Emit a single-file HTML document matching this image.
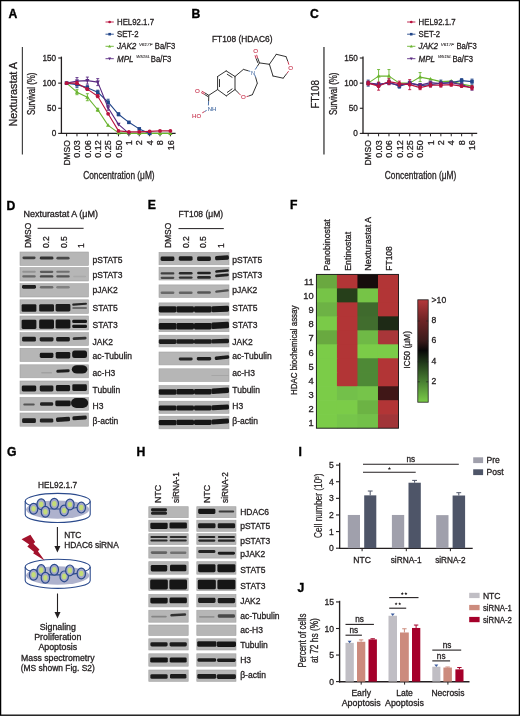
<!DOCTYPE html>
<html><head><meta charset="utf-8"><title>Figure</title>
<style>
html,body{margin:0;padding:0;background:#fff;}
svg{display:block;font-family:"Liberation Sans", sans-serif;will-change:transform;}
</style></head>
<body>
<svg width="520" height="716" viewBox="0 0 520 716" fill="#231f20">
<defs><filter id="bl" x="-20%" y="-60%" width="140%" height="220%"><feGaussianBlur stdDeviation="0.65"/></filter></defs>
<rect x="0" y="0" width="520" height="716" fill="#fff"/>
<text x="8.60" y="17.90" font-size="12.2" font-weight="bold" fill="#000" style="stroke:#000;stroke-width:0.35">A</text>
<text x="191.60" y="17.60" font-size="12.2" font-weight="bold" fill="#000" style="stroke:#000;stroke-width:0.35">B</text>
<text x="309.90" y="17.80" font-size="12.2" font-weight="bold" fill="#000" style="stroke:#000;stroke-width:0.35">C</text>
<text x="6.40" y="209.60" font-size="12.2" font-weight="bold" fill="#000" style="stroke:#000;stroke-width:0.35">D</text>
<text x="147.80" y="209.20" font-size="12.2" font-weight="bold" fill="#000" style="stroke:#000;stroke-width:0.35">E</text>
<text x="290.10" y="209.40" font-size="12.2" font-weight="bold" fill="#000" style="stroke:#000;stroke-width:0.35">F</text>
<text x="6.90" y="456.30" font-size="12.2" font-weight="bold" fill="#000" style="stroke:#000;stroke-width:0.35">G</text>
<text x="136.40" y="455.80" font-size="12.2" font-weight="bold" fill="#000" style="stroke:#000;stroke-width:0.35">H</text>
<text x="298.40" y="455.80" font-size="12.2" font-weight="bold" fill="#000" style="stroke:#000;stroke-width:0.35">I</text>
<text x="297.60" y="591.60" font-size="12.2" font-weight="bold" fill="#000" style="stroke:#000;stroke-width:0.35">J</text>
<line x1="22.40" y1="46.90" x2="22.40" y2="154.60" stroke="#444" stroke-width="1.2" />
<text x="17.10" y="94.30" font-size="11.0" stroke="#231f20" stroke-width="0.3" text-anchor="middle" transform="rotate(-90 17.10 94.30)" textLength="64.4" lengthAdjust="spacingAndGlyphs">Nexturastat A</text>
<text x="35.40" y="93.80" font-size="10.0" stroke="#231f20" stroke-width="0.3" text-anchor="middle" transform="rotate(-90 35.40 93.80)" textLength="42.5" lengthAdjust="spacingAndGlyphs">Survival (%)</text>
<line x1="61.40" y1="56.60" x2="61.40" y2="134.00" stroke="#231f20" stroke-width="1.3" />
<line x1="58.20" y1="133.40" x2="61.40" y2="133.40" stroke="#231f20" stroke-width="1.1" />
<text x="56.20" y="136.30" font-size="8.2" stroke="#231f20" stroke-width="0.3" text-anchor="end">0</text>
<line x1="58.20" y1="108.27" x2="61.40" y2="108.27" stroke="#231f20" stroke-width="1.1" />
<text x="56.20" y="111.17" font-size="8.2" stroke="#231f20" stroke-width="0.3" text-anchor="end">50</text>
<line x1="58.20" y1="83.13" x2="61.40" y2="83.13" stroke="#231f20" stroke-width="1.1" />
<text x="56.20" y="86.03" font-size="8.2" stroke="#231f20" stroke-width="0.3" text-anchor="end">100</text>
<line x1="58.20" y1="58.00" x2="61.40" y2="58.00" stroke="#231f20" stroke-width="1.1" />
<text x="56.20" y="60.90" font-size="8.2" stroke="#231f20" stroke-width="0.3" text-anchor="end">150</text>
<line x1="60.80" y1="133.40" x2="175.60" y2="133.40" stroke="#231f20" stroke-width="1.3" />
<line x1="66.60" y1="133.40" x2="66.60" y2="136.30" stroke="#231f20" stroke-width="1.0" />
<line x1="76.98" y1="133.40" x2="76.98" y2="136.30" stroke="#231f20" stroke-width="1.0" />
<line x1="87.36" y1="133.40" x2="87.36" y2="136.30" stroke="#231f20" stroke-width="1.0" />
<line x1="97.74" y1="133.40" x2="97.74" y2="136.30" stroke="#231f20" stroke-width="1.0" />
<line x1="108.12" y1="133.40" x2="108.12" y2="136.30" stroke="#231f20" stroke-width="1.0" />
<line x1="118.50" y1="133.40" x2="118.50" y2="136.30" stroke="#231f20" stroke-width="1.0" />
<line x1="128.88" y1="133.40" x2="128.88" y2="136.30" stroke="#231f20" stroke-width="1.0" />
<line x1="139.26" y1="133.40" x2="139.26" y2="136.30" stroke="#231f20" stroke-width="1.0" />
<line x1="149.64" y1="133.40" x2="149.64" y2="136.30" stroke="#231f20" stroke-width="1.0" />
<line x1="160.02" y1="133.40" x2="160.02" y2="136.30" stroke="#231f20" stroke-width="1.0" />
<line x1="170.40" y1="133.40" x2="170.40" y2="136.30" stroke="#231f20" stroke-width="1.0" />
<text x="69.80" y="140.20" font-size="9.0" stroke="#231f20" stroke-width="0.3" text-anchor="end" transform="rotate(-90 69.80 140.20)" textLength="25.4" lengthAdjust="spacingAndGlyphs">DMSO</text>
<text x="80.18" y="140.20" font-size="9.0" stroke="#231f20" stroke-width="0.3" text-anchor="end" transform="rotate(-90 80.18 140.20)">0.03</text>
<text x="90.56" y="140.20" font-size="9.0" stroke="#231f20" stroke-width="0.3" text-anchor="end" transform="rotate(-90 90.56 140.20)">0.06</text>
<text x="100.94" y="140.20" font-size="9.0" stroke="#231f20" stroke-width="0.3" text-anchor="end" transform="rotate(-90 100.94 140.20)">0.12</text>
<text x="111.32" y="140.20" font-size="9.0" stroke="#231f20" stroke-width="0.3" text-anchor="end" transform="rotate(-90 111.32 140.20)">0.25</text>
<text x="121.70" y="140.20" font-size="9.0" stroke="#231f20" stroke-width="0.3" text-anchor="end" transform="rotate(-90 121.70 140.20)">0.50</text>
<text x="132.08" y="140.20" font-size="9.0" stroke="#231f20" stroke-width="0.3" text-anchor="end" transform="rotate(-90 132.08 140.20)">1</text>
<text x="142.46" y="140.20" font-size="9.0" stroke="#231f20" stroke-width="0.3" text-anchor="end" transform="rotate(-90 142.46 140.20)">2</text>
<text x="152.84" y="140.20" font-size="9.0" stroke="#231f20" stroke-width="0.3" text-anchor="end" transform="rotate(-90 152.84 140.20)">4</text>
<text x="163.22" y="140.20" font-size="9.0" stroke="#231f20" stroke-width="0.3" text-anchor="end" transform="rotate(-90 163.22 140.20)">8</text>
<text x="173.60" y="140.20" font-size="9.0" stroke="#231f20" stroke-width="0.3" text-anchor="end" transform="rotate(-90 173.60 140.20)">16</text>
<text x="118.90" y="179.00" font-size="10.2" stroke="#231f20" stroke-width="0.3" text-anchor="middle" textLength="71.5" lengthAdjust="spacingAndGlyphs">Concentration (μM)</text>
<line x1="76.98" y1="89.67" x2="76.98" y2="94.69" stroke="#6ab42f" stroke-width="0.9" />
<line x1="75.48" y1="89.67" x2="78.48" y2="89.67" stroke="#6ab42f" stroke-width="0.9" />
<line x1="75.48" y1="94.69" x2="78.48" y2="94.69" stroke="#6ab42f" stroke-width="0.9" />
<line x1="87.36" y1="93.69" x2="87.36" y2="100.72" stroke="#6ab42f" stroke-width="0.9" />
<line x1="85.86" y1="93.69" x2="88.86" y2="93.69" stroke="#6ab42f" stroke-width="0.9" />
<line x1="85.86" y1="100.72" x2="88.86" y2="100.72" stroke="#6ab42f" stroke-width="0.9" />
<line x1="97.74" y1="108.27" x2="97.74" y2="111.28" stroke="#6ab42f" stroke-width="0.9" />
<line x1="96.24" y1="108.27" x2="99.24" y2="108.27" stroke="#6ab42f" stroke-width="0.9" />
<line x1="96.24" y1="111.28" x2="99.24" y2="111.28" stroke="#6ab42f" stroke-width="0.9" />
<polyline points="66.60,83.13 76.98,92.18 87.36,97.21 97.74,109.77 108.12,125.36 118.50,132.90 128.88,133.40 139.26,133.40 149.64,133.40 160.02,133.40 170.40,133.40" fill="none" stroke="#6ab42f" stroke-width="1.1" stroke-linejoin="round"/>
<polygon points="66.60,80.93 68.70,84.63 64.50,84.63" fill="#6ab42f" stroke="none" stroke-width="1" />
<polygon points="76.98,89.98 79.08,93.68 74.88,93.68" fill="#6ab42f" stroke="none" stroke-width="1" />
<polygon points="87.36,95.01 89.46,98.71 85.26,98.71" fill="#6ab42f" stroke="none" stroke-width="1" />
<polygon points="97.74,107.57 99.84,111.27 95.64,111.27" fill="#6ab42f" stroke="none" stroke-width="1" />
<polygon points="108.12,123.16 110.22,126.86 106.02,126.86" fill="#6ab42f" stroke="none" stroke-width="1" />
<polygon points="118.50,130.70 120.60,134.40 116.40,134.40" fill="#6ab42f" stroke="none" stroke-width="1" />
<polygon points="128.88,131.20 130.98,134.90 126.78,134.90" fill="#6ab42f" stroke="none" stroke-width="1" />
<polygon points="139.26,131.20 141.36,134.90 137.16,134.90" fill="#6ab42f" stroke="none" stroke-width="1" />
<polygon points="149.64,131.20 151.74,134.90 147.54,134.90" fill="#6ab42f" stroke="none" stroke-width="1" />
<polygon points="160.02,131.20 162.12,134.90 157.92,134.90" fill="#6ab42f" stroke="none" stroke-width="1" />
<polygon points="170.40,131.20 172.50,134.90 168.30,134.90" fill="#6ab42f" stroke="none" stroke-width="1" />
<line x1="76.98" y1="81.62" x2="76.98" y2="87.65" stroke="#21468a" stroke-width="0.9" />
<line x1="75.48" y1="81.62" x2="78.48" y2="81.62" stroke="#21468a" stroke-width="0.9" />
<line x1="75.48" y1="87.65" x2="78.48" y2="87.65" stroke="#21468a" stroke-width="0.9" />
<line x1="87.36" y1="85.64" x2="87.36" y2="89.67" stroke="#21468a" stroke-width="0.9" />
<line x1="85.86" y1="85.64" x2="88.86" y2="85.64" stroke="#21468a" stroke-width="0.9" />
<line x1="85.86" y1="89.67" x2="88.86" y2="89.67" stroke="#21468a" stroke-width="0.9" />
<line x1="97.74" y1="90.17" x2="97.74" y2="94.19" stroke="#21468a" stroke-width="0.9" />
<line x1="96.24" y1="90.17" x2="99.24" y2="90.17" stroke="#21468a" stroke-width="0.9" />
<line x1="96.24" y1="94.19" x2="99.24" y2="94.19" stroke="#21468a" stroke-width="0.9" />
<line x1="108.12" y1="99.22" x2="108.12" y2="105.25" stroke="#21468a" stroke-width="0.9" />
<line x1="106.62" y1="99.22" x2="109.62" y2="99.22" stroke="#21468a" stroke-width="0.9" />
<line x1="106.62" y1="105.25" x2="109.62" y2="105.25" stroke="#21468a" stroke-width="0.9" />
<line x1="118.50" y1="112.79" x2="118.50" y2="115.81" stroke="#21468a" stroke-width="0.9" />
<line x1="117.00" y1="112.79" x2="120.00" y2="112.79" stroke="#21468a" stroke-width="0.9" />
<line x1="117.00" y1="115.81" x2="120.00" y2="115.81" stroke="#21468a" stroke-width="0.9" />
<polyline points="66.60,83.13 76.98,84.64 87.36,87.65 97.74,92.18 108.12,102.23 118.50,114.30 128.88,122.34 139.26,128.88 149.64,133.40" fill="none" stroke="#21468a" stroke-width="1.1" stroke-linejoin="round"/>
<rect x="64.80" y="81.33" width="3.60" height="3.60" fill="#21468a" />
<rect x="75.18" y="82.84" width="3.60" height="3.60" fill="#21468a" />
<rect x="85.56" y="85.85" width="3.60" height="3.60" fill="#21468a" />
<rect x="95.94" y="90.38" width="3.60" height="3.60" fill="#21468a" />
<rect x="106.32" y="100.43" width="3.60" height="3.60" fill="#21468a" />
<rect x="116.70" y="112.50" width="3.60" height="3.60" fill="#21468a" />
<rect x="127.08" y="120.54" width="3.60" height="3.60" fill="#21468a" />
<rect x="137.46" y="127.08" width="3.60" height="3.60" fill="#21468a" />
<rect x="147.84" y="131.60" width="3.60" height="3.60" fill="#21468a" />
<line x1="76.98" y1="77.60" x2="76.98" y2="84.64" stroke="#5a2a82" stroke-width="0.9" />
<line x1="75.48" y1="77.60" x2="78.48" y2="77.60" stroke="#5a2a82" stroke-width="0.9" />
<line x1="75.48" y1="84.64" x2="78.48" y2="84.64" stroke="#5a2a82" stroke-width="0.9" />
<line x1="87.36" y1="77.10" x2="87.36" y2="84.14" stroke="#5a2a82" stroke-width="0.9" />
<line x1="85.86" y1="77.10" x2="88.86" y2="77.10" stroke="#5a2a82" stroke-width="0.9" />
<line x1="85.86" y1="84.14" x2="88.86" y2="84.14" stroke="#5a2a82" stroke-width="0.9" />
<line x1="97.74" y1="78.61" x2="97.74" y2="85.64" stroke="#5a2a82" stroke-width="0.9" />
<line x1="96.24" y1="78.61" x2="99.24" y2="78.61" stroke="#5a2a82" stroke-width="0.9" />
<line x1="96.24" y1="85.64" x2="99.24" y2="85.64" stroke="#5a2a82" stroke-width="0.9" />
<line x1="108.12" y1="105.25" x2="108.12" y2="110.28" stroke="#5a2a82" stroke-width="0.9" />
<line x1="106.62" y1="105.25" x2="109.62" y2="105.25" stroke="#5a2a82" stroke-width="0.9" />
<line x1="106.62" y1="110.28" x2="109.62" y2="110.28" stroke="#5a2a82" stroke-width="0.9" />
<polyline points="66.60,83.13 76.98,81.12 87.36,80.62 97.74,82.12 108.12,107.76 118.50,124.35 128.88,133.40" fill="none" stroke="#5a2a82" stroke-width="1.1" stroke-linejoin="round"/>
<polygon points="66.60,85.33 68.70,81.63 64.50,81.63" fill="#5a2a82" stroke="none" stroke-width="1" />
<polygon points="76.98,83.32 79.08,79.62 74.88,79.62" fill="#5a2a82" stroke="none" stroke-width="1" />
<polygon points="87.36,82.82 89.46,79.12 85.26,79.12" fill="#5a2a82" stroke="none" stroke-width="1" />
<polygon points="97.74,84.32 99.84,80.62 95.64,80.62" fill="#5a2a82" stroke="none" stroke-width="1" />
<polygon points="108.12,109.96 110.22,106.26 106.02,106.26" fill="#5a2a82" stroke="none" stroke-width="1" />
<polygon points="118.50,126.55 120.60,122.85 116.40,122.85" fill="#5a2a82" stroke="none" stroke-width="1" />
<polygon points="128.88,135.60 130.98,131.90 126.78,131.90" fill="#5a2a82" stroke="none" stroke-width="1" />
<line x1="76.98" y1="81.62" x2="76.98" y2="84.64" stroke="#b8123e" stroke-width="0.9" />
<line x1="75.48" y1="81.62" x2="78.48" y2="81.62" stroke="#b8123e" stroke-width="0.9" />
<line x1="75.48" y1="84.64" x2="78.48" y2="84.64" stroke="#b8123e" stroke-width="0.9" />
<line x1="87.36" y1="88.16" x2="87.36" y2="90.17" stroke="#b8123e" stroke-width="0.9" />
<line x1="85.86" y1="88.16" x2="88.86" y2="88.16" stroke="#b8123e" stroke-width="0.9" />
<line x1="85.86" y1="90.17" x2="88.86" y2="90.17" stroke="#b8123e" stroke-width="0.9" />
<line x1="97.74" y1="94.69" x2="97.74" y2="97.71" stroke="#b8123e" stroke-width="0.9" />
<line x1="96.24" y1="94.69" x2="99.24" y2="94.69" stroke="#b8123e" stroke-width="0.9" />
<line x1="96.24" y1="97.71" x2="99.24" y2="97.71" stroke="#b8123e" stroke-width="0.9" />
<polyline points="66.60,83.13 76.98,83.13 87.36,89.16 97.74,96.20 108.12,113.79 118.50,130.89 128.88,131.89 139.26,131.89 149.64,131.39 160.02,130.89 170.40,130.89" fill="none" stroke="#b8123e" stroke-width="1.1" stroke-linejoin="round"/>
<circle cx="66.60" cy="83.13" r="1.90" fill="#b8123e"/>
<circle cx="76.98" cy="83.13" r="1.90" fill="#b8123e"/>
<circle cx="87.36" cy="89.16" r="1.90" fill="#b8123e"/>
<circle cx="97.74" cy="96.20" r="1.90" fill="#b8123e"/>
<circle cx="108.12" cy="113.79" r="1.90" fill="#b8123e"/>
<circle cx="118.50" cy="130.89" r="1.90" fill="#b8123e"/>
<circle cx="128.88" cy="131.89" r="1.90" fill="#b8123e"/>
<circle cx="139.26" cy="131.89" r="1.90" fill="#b8123e"/>
<circle cx="149.64" cy="131.39" r="1.90" fill="#b8123e"/>
<circle cx="160.02" cy="130.89" r="1.90" fill="#b8123e"/>
<circle cx="170.40" cy="130.89" r="1.90" fill="#b8123e"/>
<line x1="105.50" y1="22.00" x2="113.80" y2="22.00" stroke="#b8123e" stroke-width="0.9" />
<circle cx="109.65" cy="22.00" r="1.37" fill="#b8123e"/>
<line x1="105.50" y1="34.20" x2="113.80" y2="34.20" stroke="#21468a" stroke-width="0.9" />
<rect x="108.35" y="32.90" width="2.59" height="2.59" fill="#21468a" />
<line x1="105.50" y1="46.30" x2="113.80" y2="46.30" stroke="#6ab42f" stroke-width="0.9" />
<polygon points="109.65,44.72 111.16,47.38 108.14,47.38" fill="#6ab42f" stroke="none" stroke-width="1" />
<line x1="105.50" y1="58.70" x2="113.80" y2="58.70" stroke="#5a2a82" stroke-width="0.9" />
<polygon points="109.65,60.28 111.16,57.62 108.14,57.62" fill="#5a2a82" stroke="none" stroke-width="1" />
<text x="117.00" y="25.00" font-size="8.6" stroke="#231f20" stroke-width="0.3" textLength="37.0" lengthAdjust="spacingAndGlyphs">HEL92.1.7</text>
<text x="117.00" y="37.20" font-size="8.6" stroke="#231f20" stroke-width="0.3" textLength="21.5" lengthAdjust="spacingAndGlyphs">SET-2</text>
<text x="117.00" y="49.30" font-size="8.6" stroke="#231f20" stroke-width="0.3" font-style="italic" textLength="19.3" lengthAdjust="spacingAndGlyphs">JAK2</text>
<text x="139.10" y="45.70" font-size="4.3" stroke="#231f20" stroke-width="0.1" font-style="italic" textLength="13.3" lengthAdjust="spacingAndGlyphs">V617F</text>
<text x="154.80" y="49.30" font-size="8.6" stroke="#231f20" stroke-width="0.3" textLength="20.4" lengthAdjust="spacingAndGlyphs">Ba/F3</text>
<text x="117.00" y="61.70" font-size="8.6" stroke="#231f20" stroke-width="0.3" font-style="italic" textLength="16.4" lengthAdjust="spacingAndGlyphs">MPL</text>
<text x="136.30" y="58.10" font-size="4.3" stroke="#231f20" stroke-width="0.1" font-style="italic" textLength="13.8" lengthAdjust="spacingAndGlyphs">W515L</text>
<text x="150.80" y="61.70" font-size="8.6" stroke="#231f20" stroke-width="0.3" textLength="20.6" lengthAdjust="spacingAndGlyphs">Ba/F3</text>
<line x1="323.95" y1="46.90" x2="323.95" y2="154.60" stroke="#707070" stroke-width="1.8" />
<text x="318.70" y="94.30" font-size="11.0" stroke="#231f20" stroke-width="0.3" text-anchor="middle" transform="rotate(-90 318.70 94.30)" textLength="28.3" lengthAdjust="spacingAndGlyphs">FT108</text>
<text x="337.00" y="93.80" font-size="10.0" stroke="#231f20" stroke-width="0.3" text-anchor="middle" transform="rotate(-90 337.00 93.80)" textLength="42.5" lengthAdjust="spacingAndGlyphs">Survival (%)</text>
<line x1="363.00" y1="56.60" x2="363.00" y2="134.00" stroke="#231f20" stroke-width="1.3" />
<line x1="359.80" y1="133.40" x2="363.00" y2="133.40" stroke="#231f20" stroke-width="1.1" />
<text x="357.80" y="136.30" font-size="8.2" stroke="#231f20" stroke-width="0.3" text-anchor="end">0</text>
<line x1="359.80" y1="108.27" x2="363.00" y2="108.27" stroke="#231f20" stroke-width="1.1" />
<text x="357.80" y="111.17" font-size="8.2" stroke="#231f20" stroke-width="0.3" text-anchor="end">50</text>
<line x1="359.80" y1="83.13" x2="363.00" y2="83.13" stroke="#231f20" stroke-width="1.1" />
<text x="357.80" y="86.03" font-size="8.2" stroke="#231f20" stroke-width="0.3" text-anchor="end">100</text>
<line x1="359.80" y1="58.00" x2="363.00" y2="58.00" stroke="#231f20" stroke-width="1.1" />
<text x="357.80" y="60.90" font-size="8.2" stroke="#231f20" stroke-width="0.3" text-anchor="end">150</text>
<line x1="362.40" y1="133.40" x2="477.20" y2="133.40" stroke="#231f20" stroke-width="1.3" />
<line x1="368.20" y1="133.40" x2="368.20" y2="136.30" stroke="#231f20" stroke-width="1.0" />
<line x1="378.58" y1="133.40" x2="378.58" y2="136.30" stroke="#231f20" stroke-width="1.0" />
<line x1="388.96" y1="133.40" x2="388.96" y2="136.30" stroke="#231f20" stroke-width="1.0" />
<line x1="399.34" y1="133.40" x2="399.34" y2="136.30" stroke="#231f20" stroke-width="1.0" />
<line x1="409.72" y1="133.40" x2="409.72" y2="136.30" stroke="#231f20" stroke-width="1.0" />
<line x1="420.10" y1="133.40" x2="420.10" y2="136.30" stroke="#231f20" stroke-width="1.0" />
<line x1="430.48" y1="133.40" x2="430.48" y2="136.30" stroke="#231f20" stroke-width="1.0" />
<line x1="440.86" y1="133.40" x2="440.86" y2="136.30" stroke="#231f20" stroke-width="1.0" />
<line x1="451.24" y1="133.40" x2="451.24" y2="136.30" stroke="#231f20" stroke-width="1.0" />
<line x1="461.62" y1="133.40" x2="461.62" y2="136.30" stroke="#231f20" stroke-width="1.0" />
<line x1="472.00" y1="133.40" x2="472.00" y2="136.30" stroke="#231f20" stroke-width="1.0" />
<text x="371.40" y="140.20" font-size="9.0" stroke="#231f20" stroke-width="0.3" text-anchor="end" transform="rotate(-90 371.40 140.20)" textLength="25.4" lengthAdjust="spacingAndGlyphs">DMSO</text>
<text x="381.78" y="140.20" font-size="9.0" stroke="#231f20" stroke-width="0.3" text-anchor="end" transform="rotate(-90 381.78 140.20)">0.03</text>
<text x="392.16" y="140.20" font-size="9.0" stroke="#231f20" stroke-width="0.3" text-anchor="end" transform="rotate(-90 392.16 140.20)">0.06</text>
<text x="402.54" y="140.20" font-size="9.0" stroke="#231f20" stroke-width="0.3" text-anchor="end" transform="rotate(-90 402.54 140.20)">0.12</text>
<text x="412.92" y="140.20" font-size="9.0" stroke="#231f20" stroke-width="0.3" text-anchor="end" transform="rotate(-90 412.92 140.20)">0.25</text>
<text x="423.30" y="140.20" font-size="9.0" stroke="#231f20" stroke-width="0.3" text-anchor="end" transform="rotate(-90 423.30 140.20)">0.50</text>
<text x="433.68" y="140.20" font-size="9.0" stroke="#231f20" stroke-width="0.3" text-anchor="end" transform="rotate(-90 433.68 140.20)">1</text>
<text x="444.06" y="140.20" font-size="9.0" stroke="#231f20" stroke-width="0.3" text-anchor="end" transform="rotate(-90 444.06 140.20)">2</text>
<text x="454.44" y="140.20" font-size="9.0" stroke="#231f20" stroke-width="0.3" text-anchor="end" transform="rotate(-90 454.44 140.20)">4</text>
<text x="464.82" y="140.20" font-size="9.0" stroke="#231f20" stroke-width="0.3" text-anchor="end" transform="rotate(-90 464.82 140.20)">8</text>
<text x="475.20" y="140.20" font-size="9.0" stroke="#231f20" stroke-width="0.3" text-anchor="end" transform="rotate(-90 475.20 140.20)">16</text>
<text x="420.50" y="179.00" font-size="10.2" stroke="#231f20" stroke-width="0.3" text-anchor="middle" textLength="71.5" lengthAdjust="spacingAndGlyphs">Concentration (μM)</text>
<line x1="378.58" y1="69.56" x2="378.58" y2="82.63" stroke="#6ab42f" stroke-width="0.9" />
<line x1="377.08" y1="69.56" x2="380.08" y2="69.56" stroke="#6ab42f" stroke-width="0.9" />
<line x1="377.08" y1="82.63" x2="380.08" y2="82.63" stroke="#6ab42f" stroke-width="0.9" />
<line x1="388.96" y1="69.56" x2="388.96" y2="82.63" stroke="#6ab42f" stroke-width="0.9" />
<line x1="387.46" y1="69.56" x2="390.46" y2="69.56" stroke="#6ab42f" stroke-width="0.9" />
<line x1="387.46" y1="82.63" x2="390.46" y2="82.63" stroke="#6ab42f" stroke-width="0.9" />
<line x1="420.10" y1="72.57" x2="420.10" y2="81.62" stroke="#6ab42f" stroke-width="0.9" />
<line x1="418.60" y1="72.57" x2="421.60" y2="72.57" stroke="#6ab42f" stroke-width="0.9" />
<line x1="418.60" y1="81.62" x2="421.60" y2="81.62" stroke="#6ab42f" stroke-width="0.9" />
<polyline points="368.20,83.13 378.58,76.09 388.96,76.09 399.34,83.13 409.72,83.13 420.10,77.10 430.48,79.11 440.86,81.62 451.24,81.12 461.62,84.14 472.00,86.15" fill="none" stroke="#6ab42f" stroke-width="1.1" stroke-linejoin="round"/>
<polygon points="368.20,80.93 370.30,84.63 366.10,84.63" fill="#6ab42f" stroke="none" stroke-width="1" />
<polygon points="378.58,73.89 380.68,77.59 376.48,77.59" fill="#6ab42f" stroke="none" stroke-width="1" />
<polygon points="388.96,73.89 391.06,77.59 386.86,77.59" fill="#6ab42f" stroke="none" stroke-width="1" />
<polygon points="399.34,80.93 401.44,84.63 397.24,84.63" fill="#6ab42f" stroke="none" stroke-width="1" />
<polygon points="409.72,80.93 411.82,84.63 407.62,84.63" fill="#6ab42f" stroke="none" stroke-width="1" />
<polygon points="420.10,74.90 422.20,78.60 418.00,78.60" fill="#6ab42f" stroke="none" stroke-width="1" />
<polygon points="430.48,76.91 432.58,80.61 428.38,80.61" fill="#6ab42f" stroke="none" stroke-width="1" />
<polygon points="440.86,79.42 442.96,83.12 438.76,83.12" fill="#6ab42f" stroke="none" stroke-width="1" />
<polygon points="451.24,78.92 453.34,82.62 449.14,82.62" fill="#6ab42f" stroke="none" stroke-width="1" />
<polygon points="461.62,81.94 463.72,85.64 459.52,85.64" fill="#6ab42f" stroke="none" stroke-width="1" />
<polygon points="472.00,83.95 474.10,87.65 469.90,87.65" fill="#6ab42f" stroke="none" stroke-width="1" />
<line x1="368.20" y1="80.11" x2="368.20" y2="86.15" stroke="#21468a" stroke-width="0.9" />
<line x1="366.70" y1="80.11" x2="369.70" y2="80.11" stroke="#21468a" stroke-width="0.9" />
<line x1="366.70" y1="86.15" x2="369.70" y2="86.15" stroke="#21468a" stroke-width="0.9" />
<line x1="378.58" y1="83.13" x2="378.58" y2="87.15" stroke="#21468a" stroke-width="0.9" />
<line x1="377.08" y1="83.13" x2="380.08" y2="83.13" stroke="#21468a" stroke-width="0.9" />
<line x1="377.08" y1="87.15" x2="380.08" y2="87.15" stroke="#21468a" stroke-width="0.9" />
<line x1="388.96" y1="80.11" x2="388.96" y2="84.14" stroke="#21468a" stroke-width="0.9" />
<line x1="387.46" y1="80.11" x2="390.46" y2="80.11" stroke="#21468a" stroke-width="0.9" />
<line x1="387.46" y1="84.14" x2="390.46" y2="84.14" stroke="#21468a" stroke-width="0.9" />
<line x1="399.34" y1="84.14" x2="399.34" y2="88.16" stroke="#21468a" stroke-width="0.9" />
<line x1="397.84" y1="84.14" x2="400.84" y2="84.14" stroke="#21468a" stroke-width="0.9" />
<line x1="397.84" y1="88.16" x2="400.84" y2="88.16" stroke="#21468a" stroke-width="0.9" />
<line x1="409.72" y1="81.12" x2="409.72" y2="85.14" stroke="#21468a" stroke-width="0.9" />
<line x1="408.22" y1="81.12" x2="411.22" y2="81.12" stroke="#21468a" stroke-width="0.9" />
<line x1="408.22" y1="85.14" x2="411.22" y2="85.14" stroke="#21468a" stroke-width="0.9" />
<line x1="420.10" y1="83.63" x2="420.10" y2="87.65" stroke="#21468a" stroke-width="0.9" />
<line x1="418.60" y1="83.63" x2="421.60" y2="83.63" stroke="#21468a" stroke-width="0.9" />
<line x1="418.60" y1="87.65" x2="421.60" y2="87.65" stroke="#21468a" stroke-width="0.9" />
<line x1="430.48" y1="82.63" x2="430.48" y2="86.65" stroke="#21468a" stroke-width="0.9" />
<line x1="428.98" y1="82.63" x2="431.98" y2="82.63" stroke="#21468a" stroke-width="0.9" />
<line x1="428.98" y1="86.65" x2="431.98" y2="86.65" stroke="#21468a" stroke-width="0.9" />
<line x1="440.86" y1="80.11" x2="440.86" y2="86.15" stroke="#21468a" stroke-width="0.9" />
<line x1="439.36" y1="80.11" x2="442.36" y2="80.11" stroke="#21468a" stroke-width="0.9" />
<line x1="439.36" y1="86.15" x2="442.36" y2="86.15" stroke="#21468a" stroke-width="0.9" />
<line x1="451.24" y1="81.12" x2="451.24" y2="84.14" stroke="#21468a" stroke-width="0.9" />
<line x1="449.74" y1="81.12" x2="452.74" y2="81.12" stroke="#21468a" stroke-width="0.9" />
<line x1="449.74" y1="84.14" x2="452.74" y2="84.14" stroke="#21468a" stroke-width="0.9" />
<line x1="461.62" y1="78.61" x2="461.62" y2="82.63" stroke="#21468a" stroke-width="0.9" />
<line x1="460.12" y1="78.61" x2="463.12" y2="78.61" stroke="#21468a" stroke-width="0.9" />
<line x1="460.12" y1="82.63" x2="463.12" y2="82.63" stroke="#21468a" stroke-width="0.9" />
<line x1="472.00" y1="79.11" x2="472.00" y2="84.14" stroke="#21468a" stroke-width="0.9" />
<line x1="470.50" y1="79.11" x2="473.50" y2="79.11" stroke="#21468a" stroke-width="0.9" />
<line x1="470.50" y1="84.14" x2="473.50" y2="84.14" stroke="#21468a" stroke-width="0.9" />
<polyline points="368.20,83.13 378.58,85.14 388.96,82.12 399.34,86.15 409.72,83.13 420.10,85.64 430.48,84.64 440.86,83.13 451.24,82.63 461.62,80.62 472.00,81.62" fill="none" stroke="#21468a" stroke-width="1.1" stroke-linejoin="round"/>
<rect x="366.40" y="81.33" width="3.60" height="3.60" fill="#21468a" />
<rect x="376.78" y="83.34" width="3.60" height="3.60" fill="#21468a" />
<rect x="387.16" y="80.32" width="3.60" height="3.60" fill="#21468a" />
<rect x="397.54" y="84.35" width="3.60" height="3.60" fill="#21468a" />
<rect x="407.92" y="81.33" width="3.60" height="3.60" fill="#21468a" />
<rect x="418.30" y="83.84" width="3.60" height="3.60" fill="#21468a" />
<rect x="428.68" y="82.84" width="3.60" height="3.60" fill="#21468a" />
<rect x="439.06" y="81.33" width="3.60" height="3.60" fill="#21468a" />
<rect x="449.44" y="80.83" width="3.60" height="3.60" fill="#21468a" />
<rect x="459.82" y="78.82" width="3.60" height="3.60" fill="#21468a" />
<rect x="470.20" y="79.82" width="3.60" height="3.60" fill="#21468a" />
<line x1="368.20" y1="81.62" x2="368.20" y2="84.64" stroke="#5a2a82" stroke-width="0.9" />
<line x1="366.70" y1="81.62" x2="369.70" y2="81.62" stroke="#5a2a82" stroke-width="0.9" />
<line x1="366.70" y1="84.64" x2="369.70" y2="84.64" stroke="#5a2a82" stroke-width="0.9" />
<line x1="378.58" y1="82.63" x2="378.58" y2="85.64" stroke="#5a2a82" stroke-width="0.9" />
<line x1="377.08" y1="82.63" x2="380.08" y2="82.63" stroke="#5a2a82" stroke-width="0.9" />
<line x1="377.08" y1="85.64" x2="380.08" y2="85.64" stroke="#5a2a82" stroke-width="0.9" />
<line x1="388.96" y1="81.62" x2="388.96" y2="84.64" stroke="#5a2a82" stroke-width="0.9" />
<line x1="387.46" y1="81.62" x2="390.46" y2="81.62" stroke="#5a2a82" stroke-width="0.9" />
<line x1="387.46" y1="84.64" x2="390.46" y2="84.64" stroke="#5a2a82" stroke-width="0.9" />
<line x1="399.34" y1="83.63" x2="399.34" y2="86.65" stroke="#5a2a82" stroke-width="0.9" />
<line x1="397.84" y1="83.63" x2="400.84" y2="83.63" stroke="#5a2a82" stroke-width="0.9" />
<line x1="397.84" y1="86.65" x2="400.84" y2="86.65" stroke="#5a2a82" stroke-width="0.9" />
<line x1="409.72" y1="81.62" x2="409.72" y2="84.64" stroke="#5a2a82" stroke-width="0.9" />
<line x1="408.22" y1="81.62" x2="411.22" y2="81.62" stroke="#5a2a82" stroke-width="0.9" />
<line x1="408.22" y1="84.64" x2="411.22" y2="84.64" stroke="#5a2a82" stroke-width="0.9" />
<line x1="420.10" y1="83.63" x2="420.10" y2="86.65" stroke="#5a2a82" stroke-width="0.9" />
<line x1="418.60" y1="83.63" x2="421.60" y2="83.63" stroke="#5a2a82" stroke-width="0.9" />
<line x1="418.60" y1="86.65" x2="421.60" y2="86.65" stroke="#5a2a82" stroke-width="0.9" />
<line x1="430.48" y1="81.12" x2="430.48" y2="84.14" stroke="#5a2a82" stroke-width="0.9" />
<line x1="428.98" y1="81.12" x2="431.98" y2="81.12" stroke="#5a2a82" stroke-width="0.9" />
<line x1="428.98" y1="84.14" x2="431.98" y2="84.14" stroke="#5a2a82" stroke-width="0.9" />
<line x1="440.86" y1="82.12" x2="440.86" y2="85.14" stroke="#5a2a82" stroke-width="0.9" />
<line x1="439.36" y1="82.12" x2="442.36" y2="82.12" stroke="#5a2a82" stroke-width="0.9" />
<line x1="439.36" y1="85.14" x2="442.36" y2="85.14" stroke="#5a2a82" stroke-width="0.9" />
<line x1="451.24" y1="81.12" x2="451.24" y2="84.14" stroke="#5a2a82" stroke-width="0.9" />
<line x1="449.74" y1="81.12" x2="452.74" y2="81.12" stroke="#5a2a82" stroke-width="0.9" />
<line x1="449.74" y1="84.14" x2="452.74" y2="84.14" stroke="#5a2a82" stroke-width="0.9" />
<line x1="461.62" y1="83.13" x2="461.62" y2="86.15" stroke="#5a2a82" stroke-width="0.9" />
<line x1="460.12" y1="83.13" x2="463.12" y2="83.13" stroke="#5a2a82" stroke-width="0.9" />
<line x1="460.12" y1="86.15" x2="463.12" y2="86.15" stroke="#5a2a82" stroke-width="0.9" />
<line x1="472.00" y1="86.15" x2="472.00" y2="90.17" stroke="#5a2a82" stroke-width="0.9" />
<line x1="470.50" y1="86.15" x2="473.50" y2="86.15" stroke="#5a2a82" stroke-width="0.9" />
<line x1="470.50" y1="90.17" x2="473.50" y2="90.17" stroke="#5a2a82" stroke-width="0.9" />
<polyline points="368.20,83.13 378.58,84.14 388.96,83.13 399.34,85.14 409.72,83.13 420.10,85.14 430.48,82.63 440.86,83.63 451.24,82.63 461.62,84.64 472.00,88.16" fill="none" stroke="#5a2a82" stroke-width="1.1" stroke-linejoin="round"/>
<polygon points="368.20,85.33 370.30,81.63 366.10,81.63" fill="#5a2a82" stroke="none" stroke-width="1" />
<polygon points="378.58,86.34 380.68,82.64 376.48,82.64" fill="#5a2a82" stroke="none" stroke-width="1" />
<polygon points="388.96,85.33 391.06,81.63 386.86,81.63" fill="#5a2a82" stroke="none" stroke-width="1" />
<polygon points="399.34,87.34 401.44,83.64 397.24,83.64" fill="#5a2a82" stroke="none" stroke-width="1" />
<polygon points="409.72,85.33 411.82,81.63 407.62,81.63" fill="#5a2a82" stroke="none" stroke-width="1" />
<polygon points="420.10,87.34 422.20,83.64 418.00,83.64" fill="#5a2a82" stroke="none" stroke-width="1" />
<polygon points="430.48,84.83 432.58,81.13 428.38,81.13" fill="#5a2a82" stroke="none" stroke-width="1" />
<polygon points="440.86,85.83 442.96,82.13 438.76,82.13" fill="#5a2a82" stroke="none" stroke-width="1" />
<polygon points="451.24,84.83 453.34,81.13 449.14,81.13" fill="#5a2a82" stroke="none" stroke-width="1" />
<polygon points="461.62,86.84 463.72,83.14 459.52,83.14" fill="#5a2a82" stroke="none" stroke-width="1" />
<polygon points="472.00,90.36 474.10,86.66 469.90,86.66" fill="#5a2a82" stroke="none" stroke-width="1" />
<line x1="368.20" y1="81.12" x2="368.20" y2="85.14" stroke="#b8123e" stroke-width="0.9" />
<line x1="366.70" y1="81.12" x2="369.70" y2="81.12" stroke="#b8123e" stroke-width="0.9" />
<line x1="366.70" y1="85.14" x2="369.70" y2="85.14" stroke="#b8123e" stroke-width="0.9" />
<line x1="378.58" y1="82.12" x2="378.58" y2="90.17" stroke="#b8123e" stroke-width="0.9" />
<line x1="377.08" y1="82.12" x2="380.08" y2="82.12" stroke="#b8123e" stroke-width="0.9" />
<line x1="377.08" y1="90.17" x2="380.08" y2="90.17" stroke="#b8123e" stroke-width="0.9" />
<line x1="388.96" y1="78.61" x2="388.96" y2="84.64" stroke="#b8123e" stroke-width="0.9" />
<line x1="387.46" y1="78.61" x2="390.46" y2="78.61" stroke="#b8123e" stroke-width="0.9" />
<line x1="387.46" y1="84.64" x2="390.46" y2="84.64" stroke="#b8123e" stroke-width="0.9" />
<line x1="399.34" y1="81.12" x2="399.34" y2="86.15" stroke="#b8123e" stroke-width="0.9" />
<line x1="397.84" y1="81.12" x2="400.84" y2="81.12" stroke="#b8123e" stroke-width="0.9" />
<line x1="397.84" y1="86.15" x2="400.84" y2="86.15" stroke="#b8123e" stroke-width="0.9" />
<line x1="409.72" y1="79.61" x2="409.72" y2="89.67" stroke="#b8123e" stroke-width="0.9" />
<line x1="408.22" y1="79.61" x2="411.22" y2="79.61" stroke="#b8123e" stroke-width="0.9" />
<line x1="408.22" y1="89.67" x2="411.22" y2="89.67" stroke="#b8123e" stroke-width="0.9" />
<line x1="420.10" y1="85.64" x2="420.10" y2="89.67" stroke="#b8123e" stroke-width="0.9" />
<line x1="418.60" y1="85.64" x2="421.60" y2="85.64" stroke="#b8123e" stroke-width="0.9" />
<line x1="418.60" y1="89.67" x2="421.60" y2="89.67" stroke="#b8123e" stroke-width="0.9" />
<line x1="430.48" y1="83.13" x2="430.48" y2="87.15" stroke="#b8123e" stroke-width="0.9" />
<line x1="428.98" y1="83.13" x2="431.98" y2="83.13" stroke="#b8123e" stroke-width="0.9" />
<line x1="428.98" y1="87.15" x2="431.98" y2="87.15" stroke="#b8123e" stroke-width="0.9" />
<line x1="440.86" y1="83.13" x2="440.86" y2="87.15" stroke="#b8123e" stroke-width="0.9" />
<line x1="439.36" y1="83.13" x2="442.36" y2="83.13" stroke="#b8123e" stroke-width="0.9" />
<line x1="439.36" y1="87.15" x2="442.36" y2="87.15" stroke="#b8123e" stroke-width="0.9" />
<line x1="451.24" y1="83.13" x2="451.24" y2="86.15" stroke="#b8123e" stroke-width="0.9" />
<line x1="449.74" y1="83.13" x2="452.74" y2="83.13" stroke="#b8123e" stroke-width="0.9" />
<line x1="449.74" y1="86.15" x2="452.74" y2="86.15" stroke="#b8123e" stroke-width="0.9" />
<line x1="461.62" y1="85.14" x2="461.62" y2="87.15" stroke="#b8123e" stroke-width="0.9" />
<line x1="460.12" y1="85.14" x2="463.12" y2="85.14" stroke="#b8123e" stroke-width="0.9" />
<line x1="460.12" y1="87.15" x2="463.12" y2="87.15" stroke="#b8123e" stroke-width="0.9" />
<line x1="472.00" y1="85.64" x2="472.00" y2="89.67" stroke="#b8123e" stroke-width="0.9" />
<line x1="470.50" y1="85.64" x2="473.50" y2="85.64" stroke="#b8123e" stroke-width="0.9" />
<line x1="470.50" y1="89.67" x2="473.50" y2="89.67" stroke="#b8123e" stroke-width="0.9" />
<polyline points="368.20,83.13 378.58,86.15 388.96,81.62 399.34,83.63 409.72,84.64 420.10,87.65 430.48,85.14 440.86,85.14 451.24,84.64 461.62,86.15 472.00,87.65" fill="none" stroke="#b8123e" stroke-width="1.1" stroke-linejoin="round"/>
<circle cx="368.20" cy="83.13" r="1.90" fill="#b8123e"/>
<circle cx="378.58" cy="86.15" r="1.90" fill="#b8123e"/>
<circle cx="388.96" cy="81.62" r="1.90" fill="#b8123e"/>
<circle cx="399.34" cy="83.63" r="1.90" fill="#b8123e"/>
<circle cx="409.72" cy="84.64" r="1.90" fill="#b8123e"/>
<circle cx="420.10" cy="87.65" r="1.90" fill="#b8123e"/>
<circle cx="430.48" cy="85.14" r="1.90" fill="#b8123e"/>
<circle cx="440.86" cy="85.14" r="1.90" fill="#b8123e"/>
<circle cx="451.24" cy="84.64" r="1.90" fill="#b8123e"/>
<circle cx="461.62" cy="86.15" r="1.90" fill="#b8123e"/>
<circle cx="472.00" cy="87.65" r="1.90" fill="#b8123e"/>
<line x1="407.10" y1="22.00" x2="415.40" y2="22.00" stroke="#b8123e" stroke-width="0.9" />
<circle cx="411.25" cy="22.00" r="1.37" fill="#b8123e"/>
<line x1="407.10" y1="34.20" x2="415.40" y2="34.20" stroke="#21468a" stroke-width="0.9" />
<rect x="409.95" y="32.90" width="2.59" height="2.59" fill="#21468a" />
<line x1="407.10" y1="46.30" x2="415.40" y2="46.30" stroke="#6ab42f" stroke-width="0.9" />
<polygon points="411.25,44.72 412.76,47.38 409.74,47.38" fill="#6ab42f" stroke="none" stroke-width="1" />
<line x1="407.10" y1="58.70" x2="415.40" y2="58.70" stroke="#5a2a82" stroke-width="0.9" />
<polygon points="411.25,60.28 412.76,57.62 409.74,57.62" fill="#5a2a82" stroke="none" stroke-width="1" />
<text x="418.60" y="25.00" font-size="8.6" stroke="#231f20" stroke-width="0.3" textLength="37.0" lengthAdjust="spacingAndGlyphs">HEL92.1.7</text>
<text x="418.60" y="37.20" font-size="8.6" stroke="#231f20" stroke-width="0.3" textLength="21.5" lengthAdjust="spacingAndGlyphs">SET-2</text>
<text x="418.60" y="49.30" font-size="8.6" stroke="#231f20" stroke-width="0.3" font-style="italic" textLength="19.3" lengthAdjust="spacingAndGlyphs">JAK2</text>
<text x="440.70" y="45.70" font-size="4.3" stroke="#231f20" stroke-width="0.1" font-style="italic" textLength="13.3" lengthAdjust="spacingAndGlyphs">V617F</text>
<text x="456.40" y="49.30" font-size="8.6" stroke="#231f20" stroke-width="0.3" textLength="20.4" lengthAdjust="spacingAndGlyphs">Ba/F3</text>
<text x="418.60" y="61.70" font-size="8.6" stroke="#231f20" stroke-width="0.3" font-style="italic" textLength="16.4" lengthAdjust="spacingAndGlyphs">MPL</text>
<text x="437.90" y="58.10" font-size="4.3" stroke="#231f20" stroke-width="0.1" font-style="italic" textLength="13.8" lengthAdjust="spacingAndGlyphs">W515L</text>
<text x="452.40" y="61.70" font-size="8.6" stroke="#231f20" stroke-width="0.3" textLength="20.6" lengthAdjust="spacingAndGlyphs">Ba/F3</text>
<text x="242.20" y="42.40" font-size="8.4" stroke="#231f20" stroke-width="0.3" text-anchor="middle" textLength="60.5" lengthAdjust="spacingAndGlyphs">FT108 (HDAC6)</text>
<line x1="226.20" y1="70.90" x2="235.00" y2="76.50" stroke="#333" stroke-width="1.0" stroke-linecap="round"/>
<line x1="235.00" y1="76.50" x2="235.00" y2="89.60" stroke="#333" stroke-width="1.0" stroke-linecap="round"/>
<line x1="235.00" y1="89.60" x2="226.30" y2="95.90" stroke="#333" stroke-width="1.0" stroke-linecap="round"/>
<line x1="226.30" y1="95.90" x2="217.60" y2="89.60" stroke="#333" stroke-width="1.0" stroke-linecap="round"/>
<line x1="217.60" y1="89.60" x2="217.60" y2="76.50" stroke="#333" stroke-width="1.0" stroke-linecap="round"/>
<line x1="217.60" y1="76.50" x2="226.20" y2="70.90" stroke="#333" stroke-width="1.0" stroke-linecap="round"/>
<line x1="227.25" y1="74.26" x2="232.06" y2="77.32" stroke="#333" stroke-width="1.0" stroke-linecap="round"/>
<line x1="232.07" y1="88.93" x2="227.32" y2="92.37" stroke="#333" stroke-width="1.0" stroke-linecap="round"/>
<line x1="219.51" y1="86.66" x2="219.51" y2="79.51" stroke="#333" stroke-width="1.0" stroke-linecap="round"/>
<line x1="235.00" y1="76.50" x2="243.40" y2="69.40" stroke="#333" stroke-width="1.0" stroke-linecap="round"/>
<line x1="243.40" y1="69.40" x2="248.60" y2="70.90" stroke="#333" stroke-width="1.0" />
<line x1="248.60" y1="70.90" x2="250.30" y2="71.40" stroke="#4a6fa5" stroke-width="1.0" />
<text x="253.00" y="74.60" font-size="5.6" stroke="#4a6fa5" stroke-width="0.05" text-anchor="middle" fill="#4a6fa5">N</text>
<line x1="255.20" y1="69.60" x2="257.30" y2="66.30" stroke="#4a6fa5" stroke-width="1.0" />
<line x1="257.30" y1="66.30" x2="259.50" y2="62.90" stroke="#333" stroke-width="1.0" />
<line x1="259.50" y1="62.90" x2="257.60" y2="57.90" stroke="#333" stroke-width="1.0" />
<line x1="257.60" y1="57.90" x2="256.60" y2="54.80" stroke="#c8344f" stroke-width="1.0" />
<line x1="258.00" y1="63.10" x2="256.00" y2="58.40" stroke="#333" stroke-width="1.0" />
<line x1="256.00" y1="58.40" x2="255.00" y2="55.30" stroke="#c8344f" stroke-width="1.0" />
<text x="255.60" y="52.90" font-size="6.2" stroke="#c8344f" stroke-width="0.12" text-anchor="middle" fill="#c8344f">O</text>
<line x1="259.50" y1="62.90" x2="269.40" y2="64.30" stroke="#333" stroke-width="1.0" stroke-linecap="round"/>
<line x1="269.40" y1="64.30" x2="276.30" y2="54.30" stroke="#333" stroke-width="1.0" stroke-linecap="round"/>
<line x1="276.30" y1="54.30" x2="286.00" y2="56.60" stroke="#333" stroke-width="1.0" stroke-linecap="round"/>
<line x1="286.00" y1="56.60" x2="287.90" y2="61.50" stroke="#333" stroke-width="1.0" />
<line x1="287.90" y1="61.50" x2="288.90" y2="64.70" stroke="#c8344f" stroke-width="1.0" />
<text x="290.60" y="70.30" font-size="6.2" stroke="#c8344f" stroke-width="0.12" text-anchor="middle" fill="#c8344f">O</text>
<line x1="288.60" y1="71.20" x2="286.80" y2="73.50" stroke="#c8344f" stroke-width="1.0" />
<line x1="286.80" y1="73.50" x2="283.20" y2="78.20" stroke="#333" stroke-width="1.0" />
<line x1="283.20" y1="78.20" x2="273.00" y2="76.00" stroke="#333" stroke-width="1.0" stroke-linecap="round"/>
<line x1="273.00" y1="76.00" x2="269.40" y2="64.30" stroke="#333" stroke-width="1.0" stroke-linecap="round"/>
<line x1="254.60" y1="74.70" x2="255.60" y2="77.20" stroke="#4a6fa5" stroke-width="1.0" />
<line x1="255.60" y1="77.20" x2="257.30" y2="83.30" stroke="#333" stroke-width="1.0" />
<line x1="257.30" y1="83.30" x2="252.40" y2="94.70" stroke="#333" stroke-width="1.0" stroke-linecap="round"/>
<line x1="252.40" y1="94.70" x2="248.50" y2="96.10" stroke="#333" stroke-width="1.0" />
<line x1="248.50" y1="96.10" x2="246.60" y2="96.60" stroke="#c8344f" stroke-width="1.0" />
<text x="243.40" y="99.10" font-size="6.2" stroke="#c8344f" stroke-width="0.12" text-anchor="middle" fill="#c8344f">O</text>
<line x1="240.60" y1="95.20" x2="238.80" y2="93.20" stroke="#c8344f" stroke-width="1.0" />
<line x1="238.80" y1="93.20" x2="235.00" y2="89.60" stroke="#333" stroke-width="1.0" />
<line x1="217.60" y1="89.60" x2="208.80" y2="95.30" stroke="#333" stroke-width="1.0" stroke-linecap="round"/>
<line x1="208.80" y1="95.30" x2="205.00" y2="93.00" stroke="#333" stroke-width="1.0" />
<line x1="205.00" y1="93.00" x2="201.80" y2="91.20" stroke="#c8344f" stroke-width="1.0" />
<line x1="208.20" y1="96.70" x2="204.30" y2="94.30" stroke="#333" stroke-width="1.0" />
<line x1="204.30" y1="94.30" x2="201.10" y2="92.50" stroke="#c8344f" stroke-width="1.0" />
<text x="197.40" y="92.80" font-size="6.2" stroke="#c8344f" stroke-width="0.12" text-anchor="middle" fill="#c8344f">O</text>
<line x1="208.80" y1="95.30" x2="208.60" y2="101.00" stroke="#333" stroke-width="1.0" />
<line x1="208.60" y1="101.00" x2="208.40" y2="105.40" stroke="#4a6fa5" stroke-width="1.0" />
<text x="212.10" y="110.90" font-size="6.0" stroke="#4a6fa5" stroke-width="0.12" text-anchor="middle" fill="#4a6fa5">NH</text>
<line x1="206.60" y1="110.40" x2="204.50" y2="111.60" stroke="#4a6fa5" stroke-width="1.0" />
<line x1="204.50" y1="111.60" x2="202.30" y2="112.80" stroke="#c8344f" stroke-width="1.0" />
<text x="196.60" y="117.60" font-size="6.0" stroke="#c8344f" stroke-width="0.12" text-anchor="middle" fill="#c8344f">HO</text>
<text x="60.70" y="216.80" font-size="8.4" stroke="#231f20" stroke-width="0.3" text-anchor="middle" textLength="74.5" lengthAdjust="spacingAndGlyphs">Nexturastat A (μM)</text>
<line x1="37.60" y1="228.30" x2="83.60" y2="228.30" stroke="#231f20" stroke-width="1.0" />
<text x="30.80" y="248.10" font-size="8.5" stroke="#231f20" stroke-width="0.3" transform="rotate(-90 30.80 248.10)">DMSO</text>
<text x="48.80" y="248.10" font-size="8.5" stroke="#231f20" stroke-width="0.3" transform="rotate(-90 48.80 248.10)">0.2</text>
<text x="66.70" y="248.10" font-size="8.5" stroke="#231f20" stroke-width="0.3" transform="rotate(-90 66.70 248.10)">0.5</text>
<text x="84.00" y="248.10" font-size="8.5" stroke="#231f20" stroke-width="0.3" transform="rotate(-90 84.00 248.10)">1</text>
<rect x="20.00" y="252.00" width="68.50" height="13.50" fill="#b6b6b6" stroke="#a2a2a2" stroke-width="0.6"/>
<g filter="url(#bl)">
<rect x="22.40" y="256.40" width="13.20" height="2.80" rx="1.40" fill="rgb(64,64,64)"/>
<rect x="39.80" y="256.40" width="13.60" height="3.20" rx="1.40" fill="rgb(48,48,48)"/>
<rect x="56.40" y="256.80" width="13.20" height="2.80" rx="1.40" fill="rgb(74,74,74)"/>
</g>
<text x="92.60" y="262.60" font-size="8.5" stroke="#231f20" stroke-width="0.3">pSTAT5</text>
<rect x="20.00" y="267.50" width="68.50" height="13.50" fill="#b6b6b6" stroke="#a2a2a2" stroke-width="0.6"/>
<g filter="url(#bl)">
<rect x="22.25" y="270.80" width="13.50" height="2.00" rx="1.00" fill="rgb(146,146,146)"/>
<rect x="39.85" y="270.70" width="13.50" height="2.20" rx="1.10" fill="rgb(92,92,92)"/>
<rect x="56.25" y="270.80" width="13.50" height="2.00" rx="1.00" fill="rgb(113,113,113)"/>
<rect x="22.25" y="275.30" width="13.50" height="2.20" rx="1.10" fill="rgb(103,103,103)"/>
<rect x="39.85" y="275.20" width="13.50" height="2.40" rx="1.20" fill="rgb(70,70,70)"/>
<rect x="56.25" y="275.30" width="13.50" height="2.20" rx="1.10" fill="rgb(87,87,87)"/>
<rect x="73.10" y="275.65" width="13.00" height="1.50" rx="0.75" fill="rgb(169,169,169)"/>
</g>
<text x="92.60" y="278.10" font-size="8.5" stroke="#231f20" stroke-width="0.3">pSTAT3</text>
<rect x="20.00" y="283.60" width="68.50" height="13.40" fill="#b6b6b6" stroke="#a2a2a2" stroke-width="0.6"/>
<g filter="url(#bl)">
<rect x="22.00" y="285.10" width="14.00" height="3.60" rx="1.40" fill="rgb(26,26,26)"/>
<rect x="39.85" y="286.00" width="13.50" height="2.40" rx="1.20" fill="rgb(108,108,108)"/>
<rect x="56.25" y="286.00" width="13.50" height="2.40" rx="1.20" fill="rgb(130,130,130)"/>
</g>
<text x="92.60" y="292.80" font-size="8.5" stroke="#231f20" stroke-width="0.3">pJAK2</text>
<rect x="20.00" y="299.80" width="68.50" height="13.70" fill="#b6b6b6" stroke="#a2a2a2" stroke-width="0.6"/>
<g filter="url(#bl)">
<rect x="21.60" y="304.20" width="14.80" height="7.60" rx="1.40" fill="rgb(23,23,23)"/>
<rect x="39.20" y="304.20" width="14.80" height="7.40" rx="1.40" fill="rgb(26,26,26)"/>
<rect x="55.60" y="304.10" width="14.80" height="7.40" rx="1.40" fill="rgb(26,26,26)"/>
<rect x="72.20" y="303.10" width="14.80" height="2.20" rx="1.10" fill="rgb(38,38,38)" transform="rotate(-4 79.60 304.20)"/>
<rect x="72.20" y="306.90" width="14.80" height="2.20" rx="1.10" fill="rgb(108,108,108)"/>
</g>
<text x="92.60" y="311.00" font-size="8.5" stroke="#231f20" stroke-width="0.3">STAT5</text>
<rect x="20.00" y="316.00" width="68.50" height="14.00" fill="#b6b6b6" stroke="#a2a2a2" stroke-width="0.6"/>
<g filter="url(#bl)">
<rect x="21.60" y="319.70" width="14.80" height="9.20" rx="1.40" fill="rgb(21,21,21)"/>
<rect x="39.20" y="319.60" width="14.80" height="9.20" rx="1.40" fill="rgb(21,21,21)"/>
<rect x="55.60" y="319.40" width="14.80" height="9.20" rx="1.40" fill="rgb(21,21,21)"/>
<rect x="72.20" y="319.70" width="14.80" height="3.40" rx="1.40" fill="rgb(23,23,23)"/>
<rect x="72.20" y="324.70" width="14.80" height="3.40" rx="1.40" fill="rgb(23,23,23)"/>
</g>
<text x="92.60" y="328.20" font-size="8.5" stroke="#231f20" stroke-width="0.3">STAT3</text>
<rect x="20.00" y="332.60" width="68.50" height="12.90" fill="#b6b6b6" stroke="#a2a2a2" stroke-width="0.6"/>
<g filter="url(#bl)">
<rect x="22.10" y="336.85" width="13.80" height="4.70" rx="1.40" fill="rgb(29,29,29)"/>
<rect x="39.70" y="337.20" width="13.80" height="4.20" rx="1.40" fill="rgb(34,34,34)"/>
<rect x="56.10" y="337.10" width="13.80" height="4.40" rx="1.40" fill="rgb(31,31,31)"/>
<rect x="72.60" y="337.00" width="14.00" height="2.80" rx="1.40" fill="rgb(48,48,48)" transform="rotate(-3 79.60 338.40)"/>
</g>
<text x="92.60" y="344.80" font-size="8.5" stroke="#231f20" stroke-width="0.3">JAK2</text>
<rect x="20.00" y="348.30" width="68.50" height="13.20" fill="#b6b6b6" stroke="#a2a2a2" stroke-width="0.6"/>
<g filter="url(#bl)">
<rect x="39.80" y="352.80" width="13.60" height="5.20" rx="1.40" fill="rgb(25,25,25)"/>
<rect x="55.70" y="351.90" width="14.60" height="6.60" rx="1.40" fill="rgb(23,23,23)"/>
<rect x="72.20" y="350.50" width="14.80" height="7.60" rx="2.50" fill="rgb(21,21,21)"/>
</g>
<text x="92.60" y="359.30" font-size="8.5" stroke="#231f20" stroke-width="0.3">ac-Tubulin</text>
<rect x="20.00" y="364.80" width="68.50" height="13.00" fill="#b6b6b6" stroke="#a2a2a2" stroke-width="0.6"/>
<g filter="url(#bl)">
<rect x="41.10" y="372.05" width="11.00" height="1.50" rx="0.75" fill="rgb(162,162,162)"/>
<rect x="56.30" y="369.50" width="13.40" height="3.00" rx="1.40" fill="rgb(28,28,28)" transform="rotate(-3 63.00 371.00)"/>
<rect x="71.80" y="365.30" width="15.60" height="8.20" rx="5.00" fill="rgb(20,20,20)"/>
</g>
<text x="92.60" y="375.60" font-size="8.5" stroke="#231f20" stroke-width="0.3">ac-H3</text>
<rect x="20.00" y="381.00" width="68.50" height="13.00" fill="#b6b6b6" stroke="#a2a2a2" stroke-width="0.6"/>
<g filter="url(#bl)">
<rect x="21.75" y="385.50" width="14.50" height="6.00" rx="1.40" fill="rgb(25,25,25)"/>
<rect x="39.80" y="385.40" width="13.60" height="6.00" rx="1.40" fill="rgb(26,26,26)"/>
<rect x="55.90" y="385.00" width="14.20" height="6.20" rx="1.40" fill="rgb(25,25,25)"/>
<rect x="72.30" y="384.30" width="14.60" height="6.60" rx="1.40" fill="rgb(23,23,23)"/>
</g>
<text x="92.60" y="392.60" font-size="8.5" stroke="#231f20" stroke-width="0.3">Tubulin</text>
<rect x="20.00" y="397.40" width="68.50" height="12.90" fill="#b6b6b6" stroke="#a2a2a2" stroke-width="0.6"/>
<g filter="url(#bl)">
<rect x="23.25" y="403.40" width="11.50" height="2.00" rx="1.00" fill="rgb(84,84,84)"/>
<rect x="40.00" y="402.20" width="13.20" height="3.60" rx="1.40" fill="rgb(34,34,34)"/>
<rect x="55.30" y="400.60" width="15.40" height="5.60" rx="1.40" fill="rgb(25,25,25)"/>
<rect x="71.00" y="398.10" width="17.20" height="9.80" rx="5.50" fill="rgb(20,20,20)"/>
</g>
<text x="92.60" y="409.30" font-size="8.5" stroke="#231f20" stroke-width="0.3">H3</text>
<rect x="20.00" y="413.00" width="68.50" height="13.20" fill="#b6b6b6" stroke="#a2a2a2" stroke-width="0.6"/>
<g filter="url(#bl)">
<rect x="22.10" y="418.30" width="13.80" height="4.80" rx="1.40" fill="rgb(29,29,29)"/>
<rect x="39.90" y="418.40" width="13.40" height="4.20" rx="1.40" fill="rgb(34,34,34)"/>
<rect x="56.00" y="417.15" width="14.00" height="4.50" rx="1.40" fill="rgb(31,31,31)" transform="rotate(-3 63.00 419.40)"/>
<rect x="72.40" y="415.80" width="14.40" height="4.00" rx="1.40" fill="rgb(31,31,31)" transform="rotate(-4 79.60 417.80)"/>
</g>
<text x="92.60" y="423.50" font-size="8.5" stroke="#231f20" stroke-width="0.3">β-actin</text>
<text x="200.80" y="217.00" font-size="8.4" stroke="#231f20" stroke-width="0.3" text-anchor="middle" textLength="44.5" lengthAdjust="spacingAndGlyphs">FT108 (μM)</text>
<line x1="178.50" y1="228.60" x2="223.80" y2="228.60" stroke="#231f20" stroke-width="1.0" />
<text x="170.60" y="248.10" font-size="8.5" stroke="#231f20" stroke-width="0.3" transform="rotate(-90 170.60 248.10)">DMSO</text>
<text x="189.20" y="248.10" font-size="8.5" stroke="#231f20" stroke-width="0.3" transform="rotate(-90 189.20 248.10)">0.2</text>
<text x="206.20" y="248.10" font-size="8.5" stroke="#231f20" stroke-width="0.3" transform="rotate(-90 206.20 248.10)">0.5</text>
<text x="223.80" y="248.10" font-size="8.5" stroke="#231f20" stroke-width="0.3" transform="rotate(-90 223.80 248.10)">1</text>
<rect x="159.00" y="252.30" width="70.00" height="12.50" fill="#b6b6b6" stroke="#a2a2a2" stroke-width="0.6"/>
<g filter="url(#bl)">
<rect x="160.60" y="256.50" width="13.80" height="4.40" rx="1.40" fill="rgb(29,29,29)"/>
<rect x="178.80" y="256.30" width="13.80" height="4.40" rx="1.40" fill="rgb(28,28,28)"/>
<rect x="197.10" y="256.50" width="13.80" height="4.40" rx="1.40" fill="rgb(29,29,29)"/>
<rect x="215.10" y="255.60" width="13.80" height="4.40" rx="1.40" fill="rgb(26,26,26)" transform="rotate(-3 222.00 257.80)"/>
</g>
<text x="232.30" y="262.60" font-size="8.5" stroke="#231f20" stroke-width="0.3">pSTAT5</text>
<rect x="159.00" y="267.20" width="70.00" height="12.80" fill="#b6b6b6" stroke="#a2a2a2" stroke-width="0.6"/>
<g filter="url(#bl)">
<rect x="160.60" y="272.30" width="13.80" height="2.20" rx="1.10" fill="rgb(64,64,64)"/>
<rect x="178.80" y="272.00" width="13.80" height="2.40" rx="1.20" fill="rgb(44,44,44)"/>
<rect x="197.10" y="271.70" width="13.80" height="2.60" rx="1.30" fill="rgb(34,34,34)"/>
<rect x="215.10" y="269.70" width="13.80" height="2.60" rx="1.30" fill="rgb(29,29,29)" transform="rotate(-5 222.00 271.00)"/>
<rect x="160.60" y="276.70" width="13.80" height="2.20" rx="1.10" fill="rgb(74,74,74)"/>
<rect x="178.80" y="276.40" width="13.80" height="2.40" rx="1.20" fill="rgb(51,51,51)"/>
<rect x="197.10" y="276.10" width="13.80" height="2.60" rx="1.30" fill="rgb(43,43,43)"/>
<rect x="215.10" y="274.10" width="13.80" height="2.60" rx="1.30" fill="rgb(34,34,34)" transform="rotate(-5 222.00 275.40)"/>
</g>
<text x="232.30" y="278.10" font-size="8.5" stroke="#231f20" stroke-width="0.3">pSTAT3</text>
<rect x="159.00" y="284.90" width="70.00" height="12.60" fill="#b6b6b6" stroke="#a2a2a2" stroke-width="0.6"/>
<g filter="url(#bl)">
<rect x="160.60" y="291.60" width="13.80" height="2.40" rx="1.20" fill="rgb(107,107,107)"/>
<rect x="178.80" y="291.50" width="13.80" height="2.40" rx="1.20" fill="rgb(100,100,100)"/>
<rect x="197.10" y="291.20" width="13.80" height="2.60" rx="1.30" fill="rgb(87,87,87)"/>
<rect x="215.10" y="289.80" width="13.80" height="2.40" rx="1.20" fill="rgb(80,80,80)" transform="rotate(-6 222.00 291.00)"/>
</g>
<text x="232.30" y="292.80" font-size="8.5" stroke="#231f20" stroke-width="0.3">pJAK2</text>
<rect x="159.00" y="302.90" width="70.00" height="12.30" fill="#b6b6b6" stroke="#a2a2a2" stroke-width="0.6"/>
<g filter="url(#bl)">
<rect x="158.80" y="306.30" width="17.60" height="6.20" rx="1.40" fill="rgb(25,25,25)"/>
<rect x="176.40" y="306.20" width="17.60" height="6.20" rx="1.40" fill="rgb(25,25,25)"/>
<rect x="194.00" y="306.30" width="17.60" height="6.20" rx="1.40" fill="rgb(25,25,25)"/>
<rect x="211.40" y="305.90" width="17.60" height="6.00" rx="1.40" fill="rgb(25,25,25)" transform="rotate(-2 220.20 308.90)"/>
</g>
<text x="232.30" y="311.00" font-size="8.5" stroke="#231f20" stroke-width="0.3">STAT5</text>
<rect x="159.00" y="319.00" width="70.00" height="12.70" fill="#b6b6b6" stroke="#a2a2a2" stroke-width="0.6"/>
<g filter="url(#bl)">
<rect x="158.80" y="323.00" width="17.60" height="6.60" rx="1.40" fill="rgb(25,25,25)"/>
<rect x="176.40" y="322.90" width="17.60" height="6.60" rx="1.40" fill="rgb(25,25,25)"/>
<rect x="194.00" y="322.90" width="17.60" height="6.60" rx="1.40" fill="rgb(25,25,25)"/>
<rect x="211.40" y="322.10" width="17.60" height="6.60" rx="1.40" fill="rgb(25,25,25)" transform="rotate(-3 220.20 325.40)"/>
</g>
<text x="232.30" y="328.20" font-size="8.5" stroke="#231f20" stroke-width="0.3">STAT3</text>
<rect x="159.00" y="335.20" width="70.00" height="11.70" fill="#b6b6b6" stroke="#a2a2a2" stroke-width="0.6"/>
<g filter="url(#bl)">
<rect x="158.80" y="339.30" width="17.60" height="4.60" rx="1.40" fill="rgb(26,26,26)"/>
<rect x="176.40" y="339.20" width="17.60" height="4.60" rx="1.40" fill="rgb(26,26,26)"/>
<rect x="194.00" y="339.20" width="17.60" height="4.60" rx="1.40" fill="rgb(26,26,26)"/>
<rect x="211.40" y="339.00" width="17.60" height="4.40" rx="1.40" fill="rgb(26,26,26)" transform="rotate(-1 220.20 341.20)"/>
</g>
<text x="232.30" y="344.80" font-size="8.5" stroke="#231f20" stroke-width="0.3">JAK2</text>
<rect x="159.00" y="352.00" width="70.00" height="12.90" fill="#b6b6b6" stroke="#a2a2a2" stroke-width="0.6"/>
<g filter="url(#bl)">
<rect x="178.70" y="357.50" width="14.00" height="3.00" rx="1.40" fill="rgb(38,38,38)"/>
<rect x="196.75" y="357.00" width="14.50" height="3.40" rx="1.40" fill="rgb(31,31,31)"/>
<rect x="214.75" y="355.80" width="14.50" height="3.60" rx="1.40" fill="rgb(26,26,26)" transform="rotate(-6 222.00 357.60)"/>
</g>
<text x="232.30" y="359.30" font-size="8.5" stroke="#231f20" stroke-width="0.3">ac-Tubulin</text>
<rect x="159.00" y="368.80" width="70.00" height="12.70" fill="#b6b6b6" stroke="#a2a2a2" stroke-width="0.6"/>
<g filter="url(#bl)">
<rect x="211.40" y="375.00" width="17.60" height="1.00" rx="0.50" fill="rgb(166,166,166)"/>
</g>
<text x="232.30" y="375.60" font-size="8.5" stroke="#231f20" stroke-width="0.3">ac-H3</text>
<rect x="159.00" y="385.50" width="70.00" height="12.20" fill="#b6b6b6" stroke="#a2a2a2" stroke-width="0.6"/>
<g filter="url(#bl)">
<rect x="158.80" y="389.20" width="17.60" height="5.60" rx="1.40" fill="rgb(25,25,25)"/>
<rect x="176.40" y="389.00" width="17.60" height="5.60" rx="1.40" fill="rgb(25,25,25)"/>
<rect x="194.00" y="389.10" width="17.60" height="5.40" rx="1.40" fill="rgb(25,25,25)"/>
<rect x="211.40" y="388.00" width="17.60" height="5.60" rx="1.40" fill="rgb(25,25,25)" transform="rotate(-4 220.20 390.80)"/>
</g>
<text x="232.30" y="392.60" font-size="8.5" stroke="#231f20" stroke-width="0.3">Tubulin</text>
<rect x="159.00" y="401.20" width="70.00" height="12.20" fill="#b6b6b6" stroke="#a2a2a2" stroke-width="0.6"/>
<g filter="url(#bl)">
<rect x="158.80" y="405.40" width="17.60" height="5.20" rx="1.40" fill="rgb(25,25,25)"/>
<rect x="176.40" y="405.50" width="17.60" height="5.00" rx="1.40" fill="rgb(25,25,25)"/>
<rect x="194.00" y="405.50" width="17.60" height="5.00" rx="1.40" fill="rgb(25,25,25)"/>
<rect x="211.40" y="404.90" width="17.60" height="5.00" rx="1.40" fill="rgb(25,25,25)" transform="rotate(-3 220.20 407.40)"/>
</g>
<text x="232.30" y="409.30" font-size="8.5" stroke="#231f20" stroke-width="0.3">H3</text>
<rect x="159.00" y="416.20" width="70.00" height="12.60" fill="#b6b6b6" stroke="#a2a2a2" stroke-width="0.6"/>
<g filter="url(#bl)">
<rect x="158.80" y="419.90" width="17.60" height="5.40" rx="1.40" fill="rgb(25,25,25)"/>
<rect x="176.40" y="419.70" width="17.60" height="5.40" rx="1.40" fill="rgb(25,25,25)"/>
<rect x="194.00" y="419.70" width="17.60" height="5.20" rx="1.40" fill="rgb(25,25,25)"/>
<rect x="211.40" y="418.90" width="17.60" height="5.20" rx="1.40" fill="rgb(25,25,25)" transform="rotate(-4 220.20 421.50)"/>
</g>
<text x="232.30" y="423.50" font-size="8.5" stroke="#231f20" stroke-width="0.3">β-actin</text>
<text x="160.80" y="503.00" font-size="8.5" stroke="#231f20" stroke-width="0.3" transform="rotate(-90 160.80 503.00)" textLength="18.2" lengthAdjust="spacingAndGlyphs">NTC</text>
<text x="178.80" y="503.00" font-size="8.5" stroke="#231f20" stroke-width="0.3" transform="rotate(-90 178.80 503.00)" textLength="31.0" lengthAdjust="spacingAndGlyphs">siRNA-1</text>
<text x="209.80" y="503.00" font-size="8.5" stroke="#231f20" stroke-width="0.3" transform="rotate(-90 209.80 503.00)" textLength="18.2" lengthAdjust="spacingAndGlyphs">NTC</text>
<text x="227.80" y="503.00" font-size="8.5" stroke="#231f20" stroke-width="0.3" transform="rotate(-90 227.80 503.00)" textLength="31.0" lengthAdjust="spacingAndGlyphs">siRNA-2</text>
<rect x="148.80" y="506.70" width="39.40" height="11.00" fill="#b6b6b6" stroke="#a2a2a2" stroke-width="0.6"/>
<g filter="url(#bl)">
<rect x="151.00" y="508.30" width="16.00" height="3.20" rx="1.40" fill="rgb(29,29,29)"/>
<rect x="151.00" y="511.80" width="16.00" height="3.00" rx="1.40" fill="rgb(34,34,34)"/>
</g>
<rect x="196.80" y="506.70" width="39.20" height="11.00" fill="#b6b6b6" stroke="#a2a2a2" stroke-width="0.6"/>
<g filter="url(#bl)">
<rect x="198.20" y="508.70" width="17.20" height="5.20" rx="1.40" fill="rgb(21,21,21)"/>
<rect x="218.60" y="510.60" width="15.60" height="2.00" rx="1.00" fill="rgb(59,59,59)"/>
</g>
<text x="240.20" y="515.40" font-size="8.5" stroke="#231f20" stroke-width="0.3">HDAC6</text>
<rect x="148.80" y="520.20" width="39.40" height="11.10" fill="#b6b6b6" stroke="#a2a2a2" stroke-width="0.6"/>
<g filter="url(#bl)">
<rect x="150.30" y="522.70" width="17.40" height="6.20" rx="1.40" fill="rgb(25,25,25)"/>
<rect x="169.50" y="522.40" width="17.40" height="6.20" rx="1.40" fill="rgb(25,25,25)"/>
</g>
<rect x="196.80" y="520.20" width="39.20" height="11.10" fill="#b6b6b6" stroke="#a2a2a2" stroke-width="0.6"/>
<g filter="url(#bl)">
<rect x="198.10" y="523.30" width="17.40" height="5.00" rx="1.40" fill="rgb(26,26,26)"/>
<rect x="217.70" y="523.30" width="17.40" height="5.00" rx="1.40" fill="rgb(26,26,26)"/>
</g>
<text x="240.20" y="529.20" font-size="8.5" stroke="#231f20" stroke-width="0.3">pSTAT5</text>
<rect x="148.80" y="533.70" width="39.40" height="10.90" fill="#b6b6b6" stroke="#a2a2a2" stroke-width="0.6"/>
<g filter="url(#bl)">
<rect x="150.40" y="536.10" width="17.20" height="2.00" rx="1.00" fill="rgb(41,41,41)"/>
<rect x="169.60" y="536.10" width="17.20" height="2.00" rx="1.00" fill="rgb(44,44,44)"/>
<rect x="150.40" y="539.60" width="17.20" height="2.00" rx="1.00" fill="rgb(41,41,41)"/>
<rect x="169.60" y="539.60" width="17.20" height="2.00" rx="1.00" fill="rgb(44,44,44)"/>
</g>
<rect x="196.80" y="533.70" width="39.20" height="10.90" fill="#b6b6b6" stroke="#a2a2a2" stroke-width="0.6"/>
<g filter="url(#bl)">
<rect x="198.20" y="535.90" width="17.20" height="2.20" rx="1.10" fill="rgb(34,34,34)"/>
<rect x="217.80" y="535.90" width="17.20" height="2.20" rx="1.10" fill="rgb(34,34,34)"/>
<rect x="198.20" y="539.50" width="17.20" height="2.20" rx="1.10" fill="rgb(38,38,38)"/>
<rect x="217.80" y="539.60" width="17.20" height="2.20" rx="1.10" fill="rgb(38,38,38)"/>
</g>
<text x="240.20" y="543.80" font-size="8.5" stroke="#231f20" stroke-width="0.3">pSTAT3</text>
<rect x="148.80" y="547.10" width="39.40" height="11.00" fill="#b6b6b6" stroke="#a2a2a2" stroke-width="0.6"/>
<g filter="url(#bl)">
<rect x="150.80" y="551.30" width="16.40" height="2.60" rx="1.30" fill="rgb(100,100,100)"/>
<rect x="170.00" y="551.60" width="16.40" height="2.40" rx="1.20" fill="rgb(113,113,113)"/>
</g>
<rect x="196.80" y="547.10" width="39.20" height="11.00" fill="#b6b6b6" stroke="#a2a2a2" stroke-width="0.6"/>
<g filter="url(#bl)">
<rect x="198.20" y="550.10" width="17.20" height="3.00" rx="1.40" fill="rgb(34,34,34)"/>
<rect x="217.80" y="551.70" width="17.20" height="3.00" rx="1.40" fill="rgb(31,31,31)"/>
</g>
<text x="240.20" y="557.10" font-size="8.5" stroke="#231f20" stroke-width="0.3">pJAK2</text>
<rect x="148.80" y="561.70" width="39.40" height="12.50" fill="#b6b6b6" stroke="#a2a2a2" stroke-width="0.6"/>
<g filter="url(#bl)">
<rect x="150.80" y="564.90" width="16.40" height="6.60" rx="1.40" fill="rgb(23,23,23)"/>
<rect x="170.00" y="564.70" width="16.40" height="6.60" rx="1.40" fill="rgb(23,23,23)"/>
</g>
<rect x="196.80" y="561.70" width="39.20" height="12.50" fill="#b6b6b6" stroke="#a2a2a2" stroke-width="0.6"/>
<g filter="url(#bl)">
<rect x="198.10" y="564.20" width="17.40" height="8.00" rx="1.40" fill="rgb(23,23,23)"/>
<rect x="217.40" y="564.20" width="18.00" height="8.00" rx="1.40" fill="rgb(23,23,23)"/>
</g>
<text x="240.20" y="573.00" font-size="8.5" stroke="#231f20" stroke-width="0.3">STAT5</text>
<rect x="148.80" y="578.10" width="39.40" height="12.50" fill="#b6b6b6" stroke="#a2a2a2" stroke-width="0.6"/>
<g filter="url(#bl)">
<rect x="150.20" y="579.50" width="17.60" height="10.00" rx="1.40" fill="rgb(21,21,21)"/>
<rect x="169.40" y="579.50" width="17.60" height="10.00" rx="1.40" fill="rgb(21,21,21)"/>
</g>
<rect x="196.80" y="578.10" width="39.20" height="12.50" fill="#b6b6b6" stroke="#a2a2a2" stroke-width="0.6"/>
<g filter="url(#bl)">
<rect x="197.80" y="579.70" width="18.00" height="9.60" rx="1.40" fill="rgb(21,21,21)"/>
<rect x="217.40" y="579.70" width="18.00" height="9.60" rx="1.40" fill="rgb(21,21,21)"/>
</g>
<text x="240.20" y="589.00" font-size="8.5" stroke="#231f20" stroke-width="0.3">STAT3</text>
<rect x="148.80" y="594.40" width="39.40" height="12.50" fill="#b6b6b6" stroke="#a2a2a2" stroke-width="0.6"/>
<g filter="url(#bl)">
<rect x="150.30" y="597.70" width="17.40" height="5.80" rx="1.40" fill="rgb(25,25,25)"/>
<rect x="169.50" y="597.50" width="17.40" height="5.80" rx="1.40" fill="rgb(25,25,25)"/>
</g>
<rect x="196.80" y="594.40" width="39.20" height="12.50" fill="#b6b6b6" stroke="#a2a2a2" stroke-width="0.6"/>
<g filter="url(#bl)">
<rect x="198.10" y="597.80" width="17.40" height="5.20" rx="1.40" fill="rgb(26,26,26)"/>
<rect x="217.70" y="598.00" width="17.40" height="5.20" rx="1.40" fill="rgb(26,26,26)"/>
</g>
<text x="240.20" y="604.00" font-size="8.5" stroke="#231f20" stroke-width="0.3">JAK2</text>
<rect x="148.80" y="610.20" width="39.40" height="12.00" fill="#b6b6b6" stroke="#a2a2a2" stroke-width="0.6"/>
<g filter="url(#bl)">
<rect x="151.20" y="615.70" width="15.60" height="1.80" rx="0.90" fill="rgb(133,133,133)"/>
<rect x="170.20" y="613.60" width="16.00" height="2.60" rx="1.30" fill="rgb(51,51,51)" transform="rotate(-3 178.20 614.90)"/>
</g>
<rect x="196.80" y="610.20" width="39.20" height="12.00" fill="#b6b6b6" stroke="#a2a2a2" stroke-width="0.6"/>
<g filter="url(#bl)">
<rect x="199.00" y="615.90" width="15.60" height="1.80" rx="0.90" fill="rgb(146,146,146)"/>
<rect x="217.80" y="614.20" width="17.20" height="3.60" rx="1.40" fill="rgb(74,74,74)"/>
</g>
<text x="240.20" y="618.70" font-size="8.5" stroke="#231f20" stroke-width="0.3">ac-Tubulin</text>
<rect x="148.80" y="625.00" width="39.40" height="10.50" fill="#b6b6b6" stroke="#a2a2a2" stroke-width="0.6"/>
<g filter="url(#bl)">
</g>
<rect x="196.80" y="625.00" width="39.20" height="10.50" fill="#b6b6b6" stroke="#a2a2a2" stroke-width="0.6"/>
<g filter="url(#bl)">
</g>
<text x="240.20" y="632.70" font-size="8.5" stroke="#231f20" stroke-width="0.3">ac-H3</text>
<rect x="148.80" y="638.80" width="39.40" height="11.20" fill="#b6b6b6" stroke="#a2a2a2" stroke-width="0.6"/>
<g filter="url(#bl)">
<rect x="150.40" y="642.30" width="17.20" height="4.20" rx="1.40" fill="rgb(26,26,26)"/>
<rect x="169.60" y="642.20" width="17.20" height="4.20" rx="1.40" fill="rgb(26,26,26)"/>
</g>
<rect x="196.80" y="638.80" width="39.20" height="11.20" fill="#b6b6b6" stroke="#a2a2a2" stroke-width="0.6"/>
<g filter="url(#bl)">
<rect x="197.20" y="641.20" width="19.20" height="5.60" rx="1.40" fill="rgb(23,23,23)"/>
<rect x="216.80" y="641.40" width="19.20" height="5.60" rx="1.40" fill="rgb(23,23,23)"/>
</g>
<text x="240.20" y="648.10" font-size="8.5" stroke="#231f20" stroke-width="0.3">Tubulin</text>
<rect x="148.80" y="653.80" width="39.40" height="12.40" fill="#b6b6b6" stroke="#a2a2a2" stroke-width="0.6"/>
<g filter="url(#bl)">
<rect x="150.20" y="657.40" width="17.60" height="5.20" rx="1.40" fill="rgb(23,23,23)"/>
<rect x="169.70" y="657.40" width="17.00" height="5.20" rx="1.40" fill="rgb(23,23,23)"/>
</g>
<rect x="196.80" y="653.80" width="39.20" height="12.40" fill="#b6b6b6" stroke="#a2a2a2" stroke-width="0.6"/>
<g filter="url(#bl)">
<rect x="197.50" y="658.20" width="18.60" height="3.60" rx="1.40" fill="rgb(26,26,26)"/>
<rect x="217.10" y="658.40" width="18.60" height="3.60" rx="1.40" fill="rgb(26,26,26)"/>
</g>
<text x="240.20" y="663.30" font-size="8.5" stroke="#231f20" stroke-width="0.3">H3</text>
<rect x="148.80" y="670.00" width="39.40" height="11.30" fill="#b6b6b6" stroke="#a2a2a2" stroke-width="0.6"/>
<g filter="url(#bl)">
<rect x="150.40" y="674.20" width="17.20" height="4.60" rx="1.40" fill="rgb(26,26,26)"/>
<rect x="170.00" y="674.00" width="16.40" height="4.60" rx="1.40" fill="rgb(26,26,26)"/>
</g>
<rect x="196.80" y="670.00" width="39.20" height="11.30" fill="#b6b6b6" stroke="#a2a2a2" stroke-width="0.6"/>
<g filter="url(#bl)">
<rect x="197.30" y="674.10" width="19.00" height="4.60" rx="1.40" fill="rgb(26,26,26)"/>
<rect x="216.90" y="674.30" width="19.00" height="4.60" rx="1.40" fill="rgb(26,26,26)"/>
</g>
<text x="240.20" y="678.40" font-size="8.5" stroke="#231f20" stroke-width="0.3">β-actin</text>
<rect x="316.40" y="274.40" width="21.23" height="14.68" fill="#6aa840" />
<rect x="336.92" y="274.40" width="21.23" height="14.68" fill="#b23536" />
<rect x="357.45" y="274.40" width="21.23" height="14.68" fill="#160c0c" />
<rect x="377.98" y="274.40" width="20.53" height="14.68" fill="#b23536" />
<text x="313.60" y="284.75" font-size="9.3" stroke="#231f20" stroke-width="0.3" text-anchor="end">11</text>
<rect x="316.40" y="288.38" width="21.23" height="14.68" fill="#76c447" />
<rect x="336.92" y="288.38" width="21.23" height="14.68" fill="#263f1a" />
<rect x="357.45" y="288.38" width="21.23" height="14.68" fill="#76c447" />
<rect x="377.98" y="288.38" width="20.53" height="14.68" fill="#b23536" />
<text x="313.60" y="298.91" font-size="9.3" stroke="#231f20" stroke-width="0.3" text-anchor="end">10</text>
<rect x="316.40" y="302.36" width="21.23" height="14.68" fill="#6db245" />
<rect x="336.92" y="302.36" width="21.23" height="14.68" fill="#b23536" />
<rect x="357.45" y="302.36" width="21.23" height="14.68" fill="#3f6a2d" />
<rect x="377.98" y="302.36" width="20.53" height="14.68" fill="#b23536" />
<text x="313.60" y="313.07" font-size="9.3" stroke="#231f20" stroke-width="0.3" text-anchor="end">9</text>
<rect x="316.40" y="316.35" width="21.23" height="14.68" fill="#7aca48" />
<rect x="336.92" y="316.35" width="21.23" height="14.68" fill="#b23536" />
<rect x="357.45" y="316.35" width="21.23" height="14.68" fill="#416d2e" />
<rect x="377.98" y="316.35" width="20.53" height="14.68" fill="#1e2a16" />
<text x="313.60" y="327.23" font-size="9.3" stroke="#231f20" stroke-width="0.3" text-anchor="end">8</text>
<rect x="316.40" y="330.33" width="21.23" height="14.68" fill="#69a940" />
<rect x="336.92" y="330.33" width="21.23" height="14.68" fill="#b23536" />
<rect x="357.45" y="330.33" width="21.23" height="14.68" fill="#6fb946" />
<rect x="377.98" y="330.33" width="20.53" height="14.68" fill="#a93639" />
<text x="313.60" y="341.39" font-size="9.3" stroke="#231f20" stroke-width="0.3" text-anchor="end">7</text>
<rect x="316.40" y="344.31" width="21.23" height="14.68" fill="#7bcc48" />
<rect x="336.92" y="344.31" width="21.23" height="14.68" fill="#b23536" />
<rect x="357.45" y="344.31" width="21.23" height="14.68" fill="#7bcc48" />
<rect x="377.98" y="344.31" width="20.53" height="14.68" fill="#7bcc48" />
<text x="313.60" y="355.55" font-size="9.3" stroke="#231f20" stroke-width="0.3" text-anchor="end">6</text>
<rect x="316.40" y="358.29" width="21.23" height="14.68" fill="#7bcc48" />
<rect x="336.92" y="358.29" width="21.23" height="14.68" fill="#b23536" />
<rect x="357.45" y="358.29" width="21.23" height="14.68" fill="#4e8936" />
<rect x="377.98" y="358.29" width="20.53" height="14.68" fill="#b23536" />
<text x="313.60" y="369.71" font-size="9.3" stroke="#231f20" stroke-width="0.3" text-anchor="end">5</text>
<rect x="316.40" y="372.27" width="21.23" height="14.68" fill="#7bcc48" />
<rect x="336.92" y="372.27" width="21.23" height="14.68" fill="#b23536" />
<rect x="357.45" y="372.27" width="21.23" height="14.68" fill="#4e8936" />
<rect x="377.98" y="372.27" width="20.53" height="14.68" fill="#b23536" />
<text x="313.60" y="383.87" font-size="9.3" stroke="#231f20" stroke-width="0.3" text-anchor="end">4</text>
<rect x="316.40" y="386.25" width="21.23" height="14.68" fill="#7bcc48" />
<rect x="336.92" y="386.25" width="21.23" height="14.68" fill="#73c04a" />
<rect x="357.45" y="386.25" width="21.23" height="14.68" fill="#76c44a" />
<rect x="377.98" y="386.25" width="20.53" height="14.68" fill="#401717" />
<text x="313.60" y="398.03" font-size="9.3" stroke="#231f20" stroke-width="0.3" text-anchor="end">3</text>
<rect x="316.40" y="400.24" width="21.23" height="14.68" fill="#7bcc48" />
<rect x="336.92" y="400.24" width="21.23" height="14.68" fill="#7bcc48" />
<rect x="357.45" y="400.24" width="21.23" height="14.68" fill="#6cb344" />
<rect x="377.98" y="400.24" width="20.53" height="14.68" fill="#b23536" />
<text x="313.60" y="412.19" font-size="9.3" stroke="#231f20" stroke-width="0.3" text-anchor="end">2</text>
<rect x="316.40" y="414.22" width="21.23" height="13.98" fill="#7bcc48" />
<rect x="336.92" y="414.22" width="21.23" height="13.98" fill="#76c54a" />
<rect x="357.45" y="414.22" width="21.23" height="13.98" fill="#73c049" />
<rect x="377.98" y="414.22" width="20.53" height="13.98" fill="#a13538" />
<text x="313.60" y="426.35" font-size="9.3" stroke="#231f20" stroke-width="0.3" text-anchor="end">1</text>
<rect x="316.40" y="274.40" width="82.10" height="153.80" fill="none" stroke="#111" stroke-width="0.9"/>
<text x="330.06" y="270.70" font-size="9.6" stroke="#231f20" stroke-width="0.3" transform="rotate(-90 330.06 270.70)" textLength="51.5" lengthAdjust="spacingAndGlyphs">Panobinostat</text>
<text x="350.59" y="270.70" font-size="9.6" stroke="#231f20" stroke-width="0.3" transform="rotate(-90 350.59 270.70)" textLength="38.8" lengthAdjust="spacingAndGlyphs">Entinostat</text>
<text x="371.11" y="270.70" font-size="9.6" stroke="#231f20" stroke-width="0.3" transform="rotate(-90 371.11 270.70)" textLength="53.8" lengthAdjust="spacingAndGlyphs">Nexturastat A</text>
<text x="391.64" y="270.70" font-size="9.6" stroke="#231f20" stroke-width="0.3" transform="rotate(-90 391.64 270.70)" textLength="24.5" lengthAdjust="spacingAndGlyphs">FT108</text>
<text x="297.00" y="350.30" font-size="8.8" stroke="#231f20" stroke-width="0.3" text-anchor="middle" transform="rotate(-90 297.00 350.30)" textLength="89.5" lengthAdjust="spacingAndGlyphs">HDAC biochemical assay</text>
<defs><linearGradient id="cb" x1="0" y1="0" x2="0" y2="1"><stop offset="0" stop-color="#b5383b"/><stop offset="0.2" stop-color="#6e2426"/><stop offset="0.4" stop-color="#3a1a1a"/><stop offset="0.495" stop-color="#080808"/><stop offset="0.6" stop-color="#1e3318"/><stop offset="0.8" stop-color="#4a8033"/><stop offset="1" stop-color="#7bcc48"/></linearGradient></defs>
<rect x="417.8" y="299.8" width="10.4" height="102.4" fill="url(#cb)" stroke="#222" stroke-width="0.8"/>
<text x="431.60" y="303.10" font-size="8.6" stroke="#231f20" stroke-width="0.3">&gt;10</text>
<text x="431.60" y="323.20" font-size="8.6" stroke="#231f20" stroke-width="0.3">8</text>
<line x1="426.20" y1="321.00" x2="428.20" y2="321.00" stroke="#222" stroke-width="0.7" />
<line x1="417.80" y1="321.00" x2="419.80" y2="321.00" stroke="#222" stroke-width="0.7" />
<text x="431.60" y="343.30" font-size="8.6" stroke="#231f20" stroke-width="0.3">6</text>
<line x1="426.20" y1="341.10" x2="428.20" y2="341.10" stroke="#222" stroke-width="0.7" />
<line x1="417.80" y1="341.10" x2="419.80" y2="341.10" stroke="#222" stroke-width="0.7" />
<text x="431.60" y="363.90" font-size="8.6" stroke="#231f20" stroke-width="0.3">4</text>
<line x1="426.20" y1="361.70" x2="428.20" y2="361.70" stroke="#222" stroke-width="0.7" />
<line x1="417.80" y1="361.70" x2="419.80" y2="361.70" stroke="#222" stroke-width="0.7" />
<text x="431.60" y="384.00" font-size="8.6" stroke="#231f20" stroke-width="0.3">2</text>
<line x1="426.20" y1="381.80" x2="428.20" y2="381.80" stroke="#222" stroke-width="0.7" />
<line x1="417.80" y1="381.80" x2="419.80" y2="381.80" stroke="#222" stroke-width="0.7" />
<text x="409.80" y="349.90" font-size="9.0" stroke="#231f20" stroke-width="0.3" text-anchor="middle" transform="rotate(-90 409.80 349.90)" textLength="37.8" lengthAdjust="spacingAndGlyphs">IC50 (μM)</text>
<text x="57.50" y="487.80" font-size="8.4" stroke="#231f20" stroke-width="0.3" text-anchor="middle" textLength="39.2" lengthAdjust="spacingAndGlyphs">HEL92.1.7</text>
<path d="M25.2,501.20 L25.2,514.50 A32.5,8.0 0 0 0 90.2,514.50 L90.2,501.20" fill="#fff" stroke="#2b4a8c" stroke-width="1.1"/>
<ellipse cx="57.7" cy="509.60" rx="31.6" ry="9.2" fill="#aeb2cd"/>
<ellipse cx="57.7" cy="501.20" rx="32.5" ry="7.8" fill="none" stroke="#2b4a8c" stroke-width="1.1"/>
<ellipse cx="33.60" cy="508.80" rx="4.2" ry="5.4" fill="#a3a7ca" stroke="#2b4a8c" stroke-width="1.2"/>
<ellipse cx="33.60" cy="508.80" rx="2.2" ry="2.8" fill="#c3dc78"/>
<ellipse cx="41.20" cy="504.20" rx="4.2" ry="5.4" fill="#a3a7ca" stroke="#2b4a8c" stroke-width="1.2"/>
<ellipse cx="41.20" cy="504.20" rx="2.2" ry="2.8" fill="#c3dc78"/>
<ellipse cx="45.40" cy="511.80" rx="4.2" ry="5.4" fill="#a3a7ca" stroke="#2b4a8c" stroke-width="1.2"/>
<ellipse cx="45.40" cy="511.80" rx="2.2" ry="2.8" fill="#c3dc78"/>
<ellipse cx="54.30" cy="503.80" rx="4.2" ry="5.4" fill="#a3a7ca" stroke="#2b4a8c" stroke-width="1.2"/>
<ellipse cx="54.30" cy="503.80" rx="2.2" ry="2.8" fill="#c3dc78"/>
<ellipse cx="64.20" cy="510.50" rx="4.2" ry="5.4" fill="#a3a7ca" stroke="#2b4a8c" stroke-width="1.2"/>
<ellipse cx="64.20" cy="510.50" rx="2.2" ry="2.8" fill="#c3dc78"/>
<ellipse cx="69.90" cy="504.50" rx="4.2" ry="5.4" fill="#a3a7ca" stroke="#2b4a8c" stroke-width="1.2"/>
<ellipse cx="69.90" cy="504.50" rx="2.2" ry="2.8" fill="#c3dc78"/>
<ellipse cx="81.30" cy="507.60" rx="4.2" ry="5.4" fill="#a3a7ca" stroke="#2b4a8c" stroke-width="1.2"/>
<ellipse cx="81.30" cy="507.60" rx="2.2" ry="2.8" fill="#c3dc78"/>
<path d="M25.2,567.10 L25.2,580.40 A32.5,8.0 0 0 0 90.2,580.40 L90.2,567.10" fill="#fff" stroke="#2b4a8c" stroke-width="1.1"/>
<ellipse cx="57.7" cy="575.50" rx="31.6" ry="9.2" fill="#aeb2cd"/>
<ellipse cx="57.7" cy="567.10" rx="32.5" ry="7.8" fill="none" stroke="#2b4a8c" stroke-width="1.1"/>
<ellipse cx="33.60" cy="574.70" rx="4.2" ry="5.4" fill="#a3a7ca" stroke="#2b4a8c" stroke-width="1.2"/>
<ellipse cx="33.60" cy="574.70" rx="2.2" ry="2.8" fill="#c3dc78"/>
<ellipse cx="41.20" cy="570.10" rx="4.2" ry="5.4" fill="#a3a7ca" stroke="#2b4a8c" stroke-width="1.2"/>
<ellipse cx="41.20" cy="570.10" rx="2.2" ry="2.8" fill="#c3dc78"/>
<ellipse cx="45.40" cy="577.70" rx="4.2" ry="5.4" fill="#a3a7ca" stroke="#2b4a8c" stroke-width="1.2"/>
<ellipse cx="45.40" cy="577.70" rx="2.2" ry="2.8" fill="#c3dc78"/>
<ellipse cx="54.30" cy="569.70" rx="4.2" ry="5.4" fill="#a3a7ca" stroke="#2b4a8c" stroke-width="1.2"/>
<ellipse cx="54.30" cy="569.70" rx="2.2" ry="2.8" fill="#c3dc78"/>
<ellipse cx="64.20" cy="576.40" rx="4.2" ry="5.4" fill="#a3a7ca" stroke="#2b4a8c" stroke-width="1.2"/>
<ellipse cx="64.20" cy="576.40" rx="2.2" ry="2.8" fill="#c3dc78"/>
<ellipse cx="69.90" cy="570.40" rx="4.2" ry="5.4" fill="#a3a7ca" stroke="#2b4a8c" stroke-width="1.2"/>
<ellipse cx="69.90" cy="570.40" rx="2.2" ry="2.8" fill="#c3dc78"/>
<ellipse cx="81.30" cy="573.50" rx="4.2" ry="5.4" fill="#a3a7ca" stroke="#2b4a8c" stroke-width="1.2"/>
<ellipse cx="81.30" cy="573.50" rx="2.2" ry="2.8" fill="#c3dc78"/>
<line x1="57.40" y1="526.90" x2="57.40" y2="547.40" stroke="#231f20" stroke-width="1.1" />
<polygon points="54.40,545.90 60.40,545.90 57.40,552.40" fill="#231f20" stroke="none" stroke-width="1" />
<line x1="57.50" y1="593.50" x2="57.50" y2="613.60" stroke="#231f20" stroke-width="1.1" />
<polygon points="54.50,612.10 60.50,612.10 57.50,618.60" fill="#231f20" stroke="none" stroke-width="1" />
<text x="64.20" y="538.00" font-size="8.4" stroke="#231f20" stroke-width="0.3">NTC</text>
<text x="64.20" y="547.80" font-size="8.4" stroke="#231f20" stroke-width="0.3" textLength="54.6" lengthAdjust="spacingAndGlyphs">HDAC6 siRNA</text>
<polygon points="21.54,539.23 30.38,534.77 35.15,541.92 33.46,543.69 39.46,549.38 37.92,551.15 44.62,560.62 33.08,553.23 34.23,551.92 27.31,546.54 29.23,544.62" fill="#a3122c" stroke="none" stroke-width="1" />
<text x="57.80" y="630.00" font-size="8.5" stroke="#231f20" stroke-width="0.3" text-anchor="middle" textLength="36.2" lengthAdjust="spacingAndGlyphs">Signaling</text>
<text x="57.80" y="640.40" font-size="8.5" stroke="#231f20" stroke-width="0.3" text-anchor="middle" textLength="47.2" lengthAdjust="spacingAndGlyphs">Proliferation</text>
<text x="57.80" y="650.40" font-size="8.5" stroke="#231f20" stroke-width="0.3" text-anchor="middle" textLength="38.8" lengthAdjust="spacingAndGlyphs">Apoptosis</text>
<text x="57.80" y="660.80" font-size="8.5" stroke="#231f20" stroke-width="0.3" text-anchor="middle" textLength="73.4" lengthAdjust="spacingAndGlyphs">Mass spectrometry</text>
<text x="57.80" y="670.90" font-size="8.5" stroke="#231f20" stroke-width="0.3" text-anchor="middle" textLength="74.0" lengthAdjust="spacingAndGlyphs">(MS shown Fig. S2)</text>
<line x1="339.65" y1="462.80" x2="339.65" y2="548.90" stroke="#231f20" stroke-width="1.35" />
<line x1="339.00" y1="548.30" x2="472.70" y2="548.30" stroke="#231f20" stroke-width="1.35" />
<line x1="336.00" y1="548.20" x2="339.70" y2="548.20" stroke="#231f20" stroke-width="1.1" />
<text x="333.80" y="551.20" font-size="8.6" stroke="#231f20" stroke-width="0.3" text-anchor="end">0</text>
<line x1="336.00" y1="531.58" x2="339.70" y2="531.58" stroke="#231f20" stroke-width="1.1" />
<text x="333.80" y="534.58" font-size="8.6" stroke="#231f20" stroke-width="0.3" text-anchor="end">1</text>
<line x1="336.00" y1="514.96" x2="339.70" y2="514.96" stroke="#231f20" stroke-width="1.1" />
<text x="333.80" y="517.96" font-size="8.6" stroke="#231f20" stroke-width="0.3" text-anchor="end">2</text>
<line x1="336.00" y1="498.34" x2="339.70" y2="498.34" stroke="#231f20" stroke-width="1.1" />
<text x="333.80" y="501.34" font-size="8.6" stroke="#231f20" stroke-width="0.3" text-anchor="end">3</text>
<line x1="336.00" y1="481.72" x2="339.70" y2="481.72" stroke="#231f20" stroke-width="1.1" />
<text x="333.80" y="484.72" font-size="8.6" stroke="#231f20" stroke-width="0.3" text-anchor="end">4</text>
<line x1="336.00" y1="465.10" x2="339.70" y2="465.10" stroke="#231f20" stroke-width="1.1" />
<text x="333.80" y="468.10" font-size="8.6" stroke="#231f20" stroke-width="0.3" text-anchor="end">5</text>
<line x1="362.10" y1="548.30" x2="362.10" y2="551.20" stroke="#231f20" stroke-width="1.0" />
<line x1="406.30" y1="548.30" x2="406.30" y2="551.20" stroke="#231f20" stroke-width="1.0" />
<line x1="450.40" y1="548.30" x2="450.40" y2="551.20" stroke="#231f20" stroke-width="1.0" />
<rect x="347.80" y="514.96" width="12.20" height="33.24" fill="#a0a0ac" />
<rect x="364.20" y="495.35" width="12.10" height="52.85" fill="#4e5568" />
<rect x="391.90" y="514.96" width="12.30" height="33.24" fill="#a0a0ac" />
<rect x="408.50" y="482.72" width="12.30" height="65.48" fill="#4e5568" />
<rect x="436.20" y="515.13" width="12.30" height="33.07" fill="#a0a0ac" />
<rect x="452.60" y="495.51" width="12.50" height="52.69" fill="#4e5568" />
<line x1="370.20" y1="495.35" x2="370.20" y2="491.03" stroke="#4e5568" stroke-width="1.0" />
<line x1="367.80" y1="491.03" x2="372.60" y2="491.03" stroke="#4e5568" stroke-width="1.0" />
<line x1="414.60" y1="482.72" x2="414.60" y2="480.39" stroke="#4e5568" stroke-width="1.0" />
<line x1="412.20" y1="480.39" x2="417.00" y2="480.39" stroke="#4e5568" stroke-width="1.0" />
<line x1="458.80" y1="495.51" x2="458.80" y2="492.69" stroke="#4e5568" stroke-width="1.0" />
<line x1="456.40" y1="492.69" x2="461.20" y2="492.69" stroke="#4e5568" stroke-width="1.0" />
<line x1="363.00" y1="464.20" x2="458.80" y2="464.20" stroke="#231f20" stroke-width="1.1" />
<line x1="363.00" y1="472.30" x2="415.70" y2="472.30" stroke="#231f20" stroke-width="1.1" />
<text x="410.80" y="462.30" font-size="8.2" stroke="#231f20" stroke-width="0.3" text-anchor="middle">ns</text>
<polygon points="389.40,466.80 389.85,467.88 391.02,467.97 390.13,468.74 390.40,469.88 389.40,469.26 388.40,469.88 388.67,468.74 387.78,467.97 388.95,467.88" fill="#231f20" stroke="none" stroke-width="1" />
<rect x="473.20" y="457.30" width="9.90" height="5.80" fill="#a0a0ac" />
<rect x="473.20" y="469.30" width="9.90" height="5.80" fill="#4e5568" />
<text x="486.50" y="463.40" font-size="8.6" stroke="#231f20" stroke-width="0.3">Pre</text>
<text x="486.50" y="475.40" font-size="8.6" stroke="#231f20" stroke-width="0.3">Post</text>
<text x="362.10" y="562.50" font-size="8.6" stroke="#231f20" stroke-width="0.3" text-anchor="middle">NTC</text>
<text x="406.20" y="562.50" font-size="8.6" stroke="#231f20" stroke-width="0.3" text-anchor="middle" textLength="31.0" lengthAdjust="spacingAndGlyphs">siRNA-1</text>
<text x="450.40" y="562.50" font-size="8.6" stroke="#231f20" stroke-width="0.3" text-anchor="middle" textLength="30.5" lengthAdjust="spacingAndGlyphs">siRNA-2</text>
<text x="322.4" y="505.8" font-size="10.2" stroke="#231f20" stroke-width="0.2" text-anchor="middle" transform="rotate(-90 322.4 505.8)" textLength="64.5" lengthAdjust="spacingAndGlyphs">Cell number (10<tspan font-size="5" dy="-3">5</tspan><tspan dy="3">)</tspan></text>
<line x1="339.60" y1="600.80" x2="339.60" y2="682.50" stroke="#231f20" stroke-width="1.35" />
<line x1="339.00" y1="681.80" x2="469.50" y2="681.80" stroke="#231f20" stroke-width="1.4" />
<line x1="336.00" y1="681.60" x2="339.60" y2="681.60" stroke="#231f20" stroke-width="1.1" />
<text x="334.00" y="684.60" font-size="8.6" stroke="#231f20" stroke-width="0.3" text-anchor="end">0</text>
<line x1="336.00" y1="655.05" x2="339.60" y2="655.05" stroke="#231f20" stroke-width="1.1" />
<text x="334.00" y="658.05" font-size="8.6" stroke="#231f20" stroke-width="0.3" text-anchor="end">5</text>
<line x1="336.00" y1="628.50" x2="339.60" y2="628.50" stroke="#231f20" stroke-width="1.1" />
<text x="334.00" y="631.50" font-size="8.6" stroke="#231f20" stroke-width="0.3" text-anchor="end">10</text>
<line x1="336.00" y1="601.95" x2="339.60" y2="601.95" stroke="#231f20" stroke-width="1.1" />
<text x="334.00" y="604.95" font-size="8.6" stroke="#231f20" stroke-width="0.3" text-anchor="end">15</text>
<line x1="361.20" y1="681.80" x2="361.20" y2="684.60" stroke="#231f20" stroke-width="1.0" />
<line x1="404.60" y1="681.80" x2="404.60" y2="684.60" stroke="#231f20" stroke-width="1.0" />
<line x1="447.90" y1="681.80" x2="447.90" y2="684.60" stroke="#231f20" stroke-width="1.0" />
<rect x="345.50" y="642.84" width="8.30" height="38.76" fill="#c0bec4" />
<rect x="357.00" y="641.77" width="8.30" height="39.83" fill="#cc8b7d" />
<rect x="368.50" y="639.39" width="8.40" height="42.21" fill="#a5002a" />
<rect x="388.50" y="615.76" width="8.50" height="65.84" fill="#c0bec4" />
<rect x="400.00" y="632.48" width="8.80" height="49.12" fill="#cc8b7d" />
<rect x="412.00" y="627.97" width="8.30" height="53.63" fill="#a5002a" />
<rect x="432.30" y="666.73" width="8.10" height="14.87" fill="#c0bec4" />
<rect x="443.40" y="667.53" width="8.50" height="14.07" fill="#cc8b7d" />
<rect x="455.40" y="669.39" width="8.10" height="12.21" fill="#a5002a" />
<polygon points="347.60,640.64 351.60,640.64 349.60,643.14" fill="#3a5a9c" stroke="none" stroke-width="1" />
<line x1="361.10" y1="641.77" x2="361.10" y2="639.92" stroke="#cc8b7d" stroke-width="1.0" />
<line x1="358.90" y1="639.92" x2="363.30" y2="639.92" stroke="#cc8b7d" stroke-width="1.0" />
<line x1="372.70" y1="639.39" x2="372.70" y2="638.75" stroke="#a5002a" stroke-width="1.0" />
<line x1="370.50" y1="638.75" x2="374.90" y2="638.75" stroke="#a5002a" stroke-width="1.0" />
<polygon points="390.70,613.56 394.70,613.56 392.70,616.06" fill="#3a5a9c" stroke="none" stroke-width="1" />
<line x1="404.40" y1="632.48" x2="404.40" y2="628.77" stroke="#cc8b7d" stroke-width="1.0" />
<line x1="402.20" y1="628.77" x2="406.60" y2="628.77" stroke="#cc8b7d" stroke-width="1.0" />
<line x1="416.10" y1="627.97" x2="416.10" y2="625.05" stroke="#a5002a" stroke-width="1.0" />
<line x1="413.90" y1="625.05" x2="418.30" y2="625.05" stroke="#a5002a" stroke-width="1.0" />
<polygon points="434.30,664.53 438.30,664.53 436.30,667.03" fill="#3a5a9c" stroke="none" stroke-width="1" />
<line x1="447.60" y1="667.53" x2="447.60" y2="667.00" stroke="#cc8b7d" stroke-width="1.0" />
<line x1="445.40" y1="667.00" x2="449.80" y2="667.00" stroke="#cc8b7d" stroke-width="1.0" />
<line x1="459.40" y1="669.39" x2="459.40" y2="667.53" stroke="#a5002a" stroke-width="1.0" />
<line x1="457.20" y1="667.53" x2="461.60" y2="667.53" stroke="#a5002a" stroke-width="1.0" />
<line x1="345.50" y1="635.20" x2="361.90" y2="635.20" stroke="#231f20" stroke-width="1.1" />
<text x="353.80" y="633.00" font-size="8.2" stroke="#231f20" stroke-width="0.3" text-anchor="middle">ns</text>
<line x1="345.50" y1="624.40" x2="373.90" y2="624.40" stroke="#231f20" stroke-width="1.1" />
<text x="359.60" y="622.40" font-size="8.2" stroke="#231f20" stroke-width="0.3" text-anchor="middle">ns</text>
<line x1="389.20" y1="608.20" x2="406.20" y2="608.20" stroke="#231f20" stroke-width="1.1" />
<polygon points="396.10,602.30 396.52,603.32 397.62,603.41 396.78,604.12 397.04,605.19 396.10,604.62 395.16,605.19 395.42,604.12 394.58,603.41 395.68,603.32" fill="#231f20" stroke="none" stroke-width="1" />
<polygon points="399.70,602.30 400.12,603.32 401.22,603.41 400.38,604.12 400.64,605.19 399.70,604.62 398.76,605.19 399.02,604.12 398.18,603.41 399.28,603.32" fill="#231f20" stroke="none" stroke-width="1" />
<line x1="389.20" y1="597.60" x2="418.50" y2="597.60" stroke="#231f20" stroke-width="1.1" />
<polygon points="402.30,592.10 402.72,593.12 403.82,593.21 402.98,593.92 403.24,594.99 402.30,594.42 401.36,594.99 401.62,593.92 400.78,593.21 401.88,593.12" fill="#231f20" stroke="none" stroke-width="1" />
<polygon points="405.90,592.10 406.32,593.12 407.42,593.21 406.58,593.92 406.84,594.99 405.90,594.42 404.96,594.99 405.22,593.92 404.38,593.21 405.48,593.12" fill="#231f20" stroke="none" stroke-width="1" />
<line x1="432.30" y1="660.90" x2="450.10" y2="660.90" stroke="#231f20" stroke-width="1.1" />
<text x="441.20" y="658.90" font-size="8.2" stroke="#231f20" stroke-width="0.3" text-anchor="middle">ns</text>
<line x1="432.30" y1="650.10" x2="461.20" y2="650.10" stroke="#231f20" stroke-width="1.1" />
<text x="447.00" y="648.10" font-size="8.2" stroke="#231f20" stroke-width="0.3" text-anchor="middle">ns</text>
<rect x="469.20" y="592.80" width="10.40" height="5.30" fill="#c0bec4" />
<rect x="469.20" y="604.90" width="10.40" height="5.30" fill="#cc8b7d" />
<rect x="469.20" y="616.90" width="10.40" height="5.30" fill="#a5002a" />
<text x="482.90" y="598.60" font-size="8.6" stroke="#231f20" stroke-width="0.3">NTC</text>
<text x="482.90" y="610.70" font-size="8.6" stroke="#231f20" stroke-width="0.3" textLength="29.0" lengthAdjust="spacingAndGlyphs">siRNA-1</text>
<text x="482.90" y="622.70" font-size="8.6" stroke="#231f20" stroke-width="0.3" textLength="29.0" lengthAdjust="spacingAndGlyphs">siRNA-2</text>
<text x="361.20" y="696.00" font-size="8.6" stroke="#231f20" stroke-width="0.3" text-anchor="middle">Early</text>
<text x="361.20" y="705.60" font-size="8.6" stroke="#231f20" stroke-width="0.3" text-anchor="middle" textLength="39.0" lengthAdjust="spacingAndGlyphs">Apoptosis</text>
<text x="404.50" y="696.00" font-size="8.6" stroke="#231f20" stroke-width="0.3" text-anchor="middle">Late</text>
<text x="404.50" y="705.60" font-size="8.6" stroke="#231f20" stroke-width="0.3" text-anchor="middle" textLength="39.0" lengthAdjust="spacingAndGlyphs">Apoptosis</text>
<text x="448.00" y="696.00" font-size="8.6" stroke="#231f20" stroke-width="0.3" text-anchor="middle" textLength="33.0" lengthAdjust="spacingAndGlyphs">Necrosis</text>
<text x="305.60" y="640.60" font-size="10.0" stroke="#231f20" stroke-width="0.3" text-anchor="middle" transform="rotate(-90 305.60 640.60)" textLength="54.0" lengthAdjust="spacingAndGlyphs">Percent of cells</text>
<text x="317.80" y="640.60" font-size="10.0" stroke="#231f20" stroke-width="0.3" text-anchor="middle" transform="rotate(-90 317.80 640.60)" textLength="45.0" lengthAdjust="spacingAndGlyphs">at 72 hs (%)</text>
<rect x="0.6" y="0.6" width="518.8" height="714.6" fill="none" stroke="#000" stroke-width="1.3"/>
</svg>
</body></html>
